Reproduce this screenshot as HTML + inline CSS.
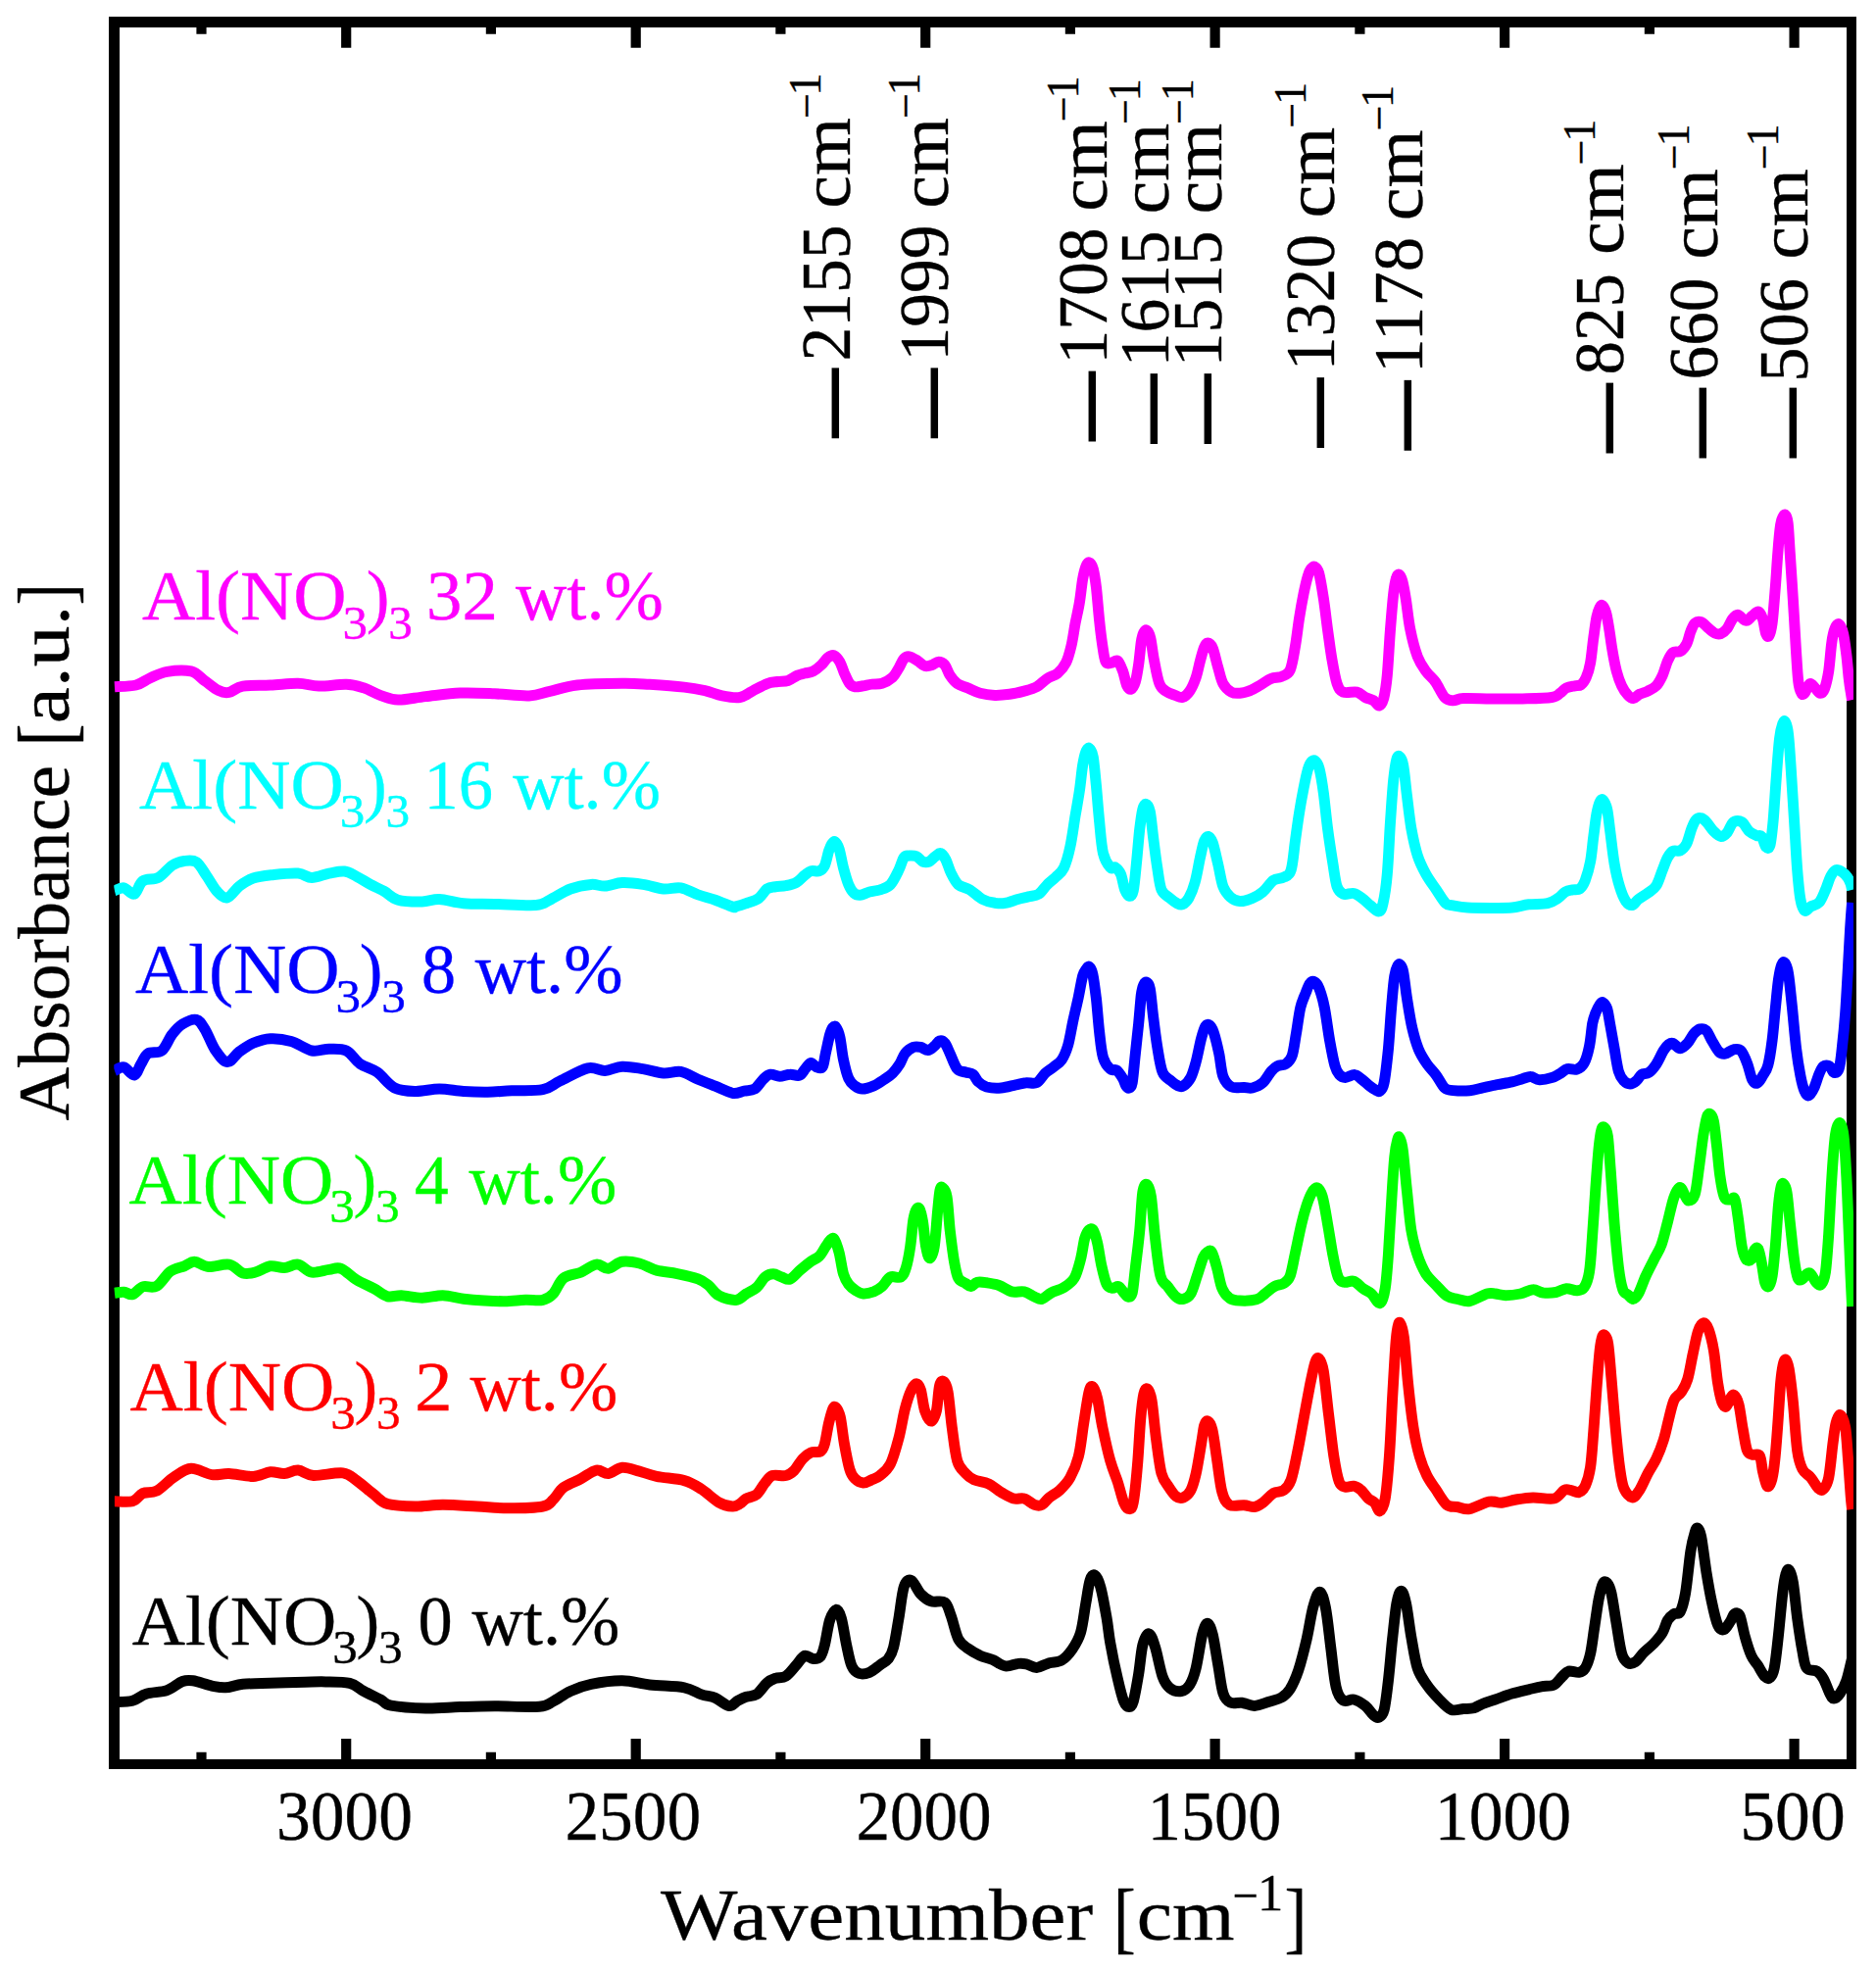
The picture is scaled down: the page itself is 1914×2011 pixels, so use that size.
<!DOCTYPE html>
<html><head><meta charset="utf-8"><title>FTIR spectra</title>
<style>html,body{margin:0;padding:0;background:#fff}svg{display:block}text{font-family:"Liberation Serif", serif;stroke-width:0.35px;stroke-linejoin:round}</style></head><body>
<svg width="1914" height="2011" viewBox="0 0 1914 2011">
<rect width="1914" height="2011" fill="#fff"/>
<path d="M111 17H1894V1805H111ZM122 28V1795H1884V28Z" fill="#000" fill-rule="evenodd"/>
<path d="M1830.6 22.2V48.8M1830.6 1799.9V1773.9M1535.1 22.2V48.8M1535.1 1799.9V1773.9M1239.6 22.2V48.8M1239.6 1799.9V1773.9M944.2 22.2V48.8M944.2 1799.9V1773.9M648.7 22.2V48.8M648.7 1799.9V1773.9M353.2 22.2V48.8M353.2 1799.9V1773.9M1682.9 22.2V34.8M1682.9 1799.9V1787.8M1387.4 22.2V34.8M1387.4 1799.9V1787.8M1091.9 22.2V34.8M1091.9 1799.9V1787.8M796.4 22.2V34.8M796.4 1799.9V1787.8M500.9 22.2V34.8M500.9 1799.9V1787.8M205.5 22.2V34.8M205.5 1799.9V1787.8" stroke="#000" stroke-width="10.2" fill="none"/>
<defs><clipPath id="ax"><rect x="116.3" y="16" width="1774.7" height="1790"/></clipPath></defs>
<g clip-path="url(#ax)" fill="none" stroke-width="11" stroke-linejoin="round" stroke-linecap="butt">
<path d="M116.9 1736.6C119.9 1736.4 129.8 1736.6 135.2 1735.2C140.6 1733.8 143.4 1729.9 149.3 1728.2C155.1 1726.4 164.2 1726.8 170.4 1724.6C176.5 1722.5 181.8 1717.1 186.2 1715.5C190.6 1713.9 191.8 1714.0 196.7 1714.8C201.7 1715.6 210.5 1718.9 216.1 1720.1C221.7 1721.2 224.9 1722.1 230.2 1721.8C235.4 1721.5 240.1 1719.1 247.8 1718.3C255.4 1717.6 265.4 1717.6 275.9 1717.3C286.5 1716.9 301.7 1716.4 311.1 1716.2C320.5 1716.0 324.6 1715.7 332.2 1715.9C339.8 1716.0 350.4 1715.7 356.8 1717.3C363.3 1718.8 365.6 1722.5 370.9 1725.4C376.2 1728.2 383.8 1731.7 388.5 1734.1C393.2 1736.6 391.4 1738.7 399.0 1740.1C406.7 1741.6 422.5 1742.7 434.2 1742.9C445.9 1743.2 457.7 1741.9 469.4 1741.5C481.1 1741.2 491.1 1740.9 504.6 1740.8C518.1 1740.8 540.4 1742.0 550.3 1741.2C560.3 1740.4 559.1 1738.5 564.4 1735.9C569.7 1733.3 575.5 1728.3 582.0 1725.4C588.4 1722.4 594.3 1720.1 603.1 1718.3C611.9 1716.6 624.8 1714.7 634.8 1714.8C644.7 1714.9 652.3 1717.8 662.9 1719.0C673.5 1720.2 689.3 1720.2 698.1 1721.8C706.9 1723.5 710.4 1727.1 715.7 1728.9C720.9 1730.6 725.1 1730.5 729.7 1732.4C734.4 1734.3 740.0 1740.0 743.8 1740.5C747.7 1740.9 749.9 1736.6 752.8 1735.1C755.7 1733.6 758.1 1732.3 761.3 1731.3C764.5 1730.2 768.4 1731.1 772.0 1728.7C775.5 1726.3 779.4 1719.7 782.6 1717.0C785.8 1714.2 788.0 1713.4 791.2 1712.3C794.4 1711.1 798.3 1712.4 801.8 1710.1C805.4 1707.9 809.3 1702.3 812.5 1698.8C815.7 1695.4 818.2 1690.3 821.0 1689.3C823.9 1688.2 826.9 1692.3 829.6 1692.5C832.2 1692.6 835.1 1692.6 837.0 1690.3C839.0 1688.0 839.7 1684.8 841.3 1678.6C842.9 1672.4 844.7 1659.0 846.6 1653.0C848.6 1647.0 851.1 1642.7 853.0 1642.3C855.0 1642.0 856.6 1644.8 858.3 1650.9C860.1 1656.9 861.9 1670.4 863.7 1678.6C865.4 1686.8 866.9 1695.1 869.0 1699.9C871.1 1704.7 873.4 1706.3 876.5 1707.4C879.5 1708.4 883.6 1707.7 887.1 1706.3C890.7 1704.9 894.6 1701.2 897.8 1698.8C901.0 1696.5 904.0 1695.5 906.3 1692.5C908.6 1689.4 909.9 1687.7 911.6 1680.7C913.4 1673.8 915.2 1661.2 917.0 1650.9C918.7 1640.6 920.2 1625.3 922.3 1618.9C924.4 1612.5 926.9 1611.3 929.8 1612.5C932.6 1613.7 936.0 1622.8 939.4 1626.4C942.7 1629.9 945.9 1632.4 950.0 1633.8C954.1 1635.2 960.5 1632.4 963.9 1634.9C967.3 1637.4 968.0 1642.5 970.3 1648.7C972.6 1655.0 974.9 1666.7 977.7 1672.2C980.6 1677.7 983.6 1678.9 987.3 1681.8C991.1 1684.6 995.9 1687.3 1000.1 1689.3C1004.4 1691.2 1008.7 1691.7 1012.9 1693.5C1017.2 1695.3 1021.4 1699.3 1025.7 1699.9C1030.0 1700.6 1035.0 1697.7 1038.5 1697.4C1042.1 1697.0 1043.8 1697.1 1047.0 1697.8C1050.2 1698.5 1053.8 1701.6 1057.7 1701.4C1061.6 1701.2 1066.2 1698.0 1070.5 1696.7C1074.8 1695.5 1079.4 1696.3 1083.3 1693.9C1087.2 1691.6 1090.7 1687.5 1093.9 1682.9C1097.1 1678.2 1100.2 1673.6 1102.5 1665.8C1104.8 1658.0 1106.2 1644.8 1107.8 1635.9C1109.4 1627.1 1110.5 1617.3 1112.1 1612.5C1113.6 1607.7 1115.2 1606.1 1117.0 1607.2C1118.7 1608.2 1120.7 1611.6 1122.7 1618.9C1124.8 1626.2 1127.4 1641.3 1129.1 1650.9C1130.8 1660.5 1130.9 1666.2 1132.8 1676.5C1134.6 1686.8 1137.9 1702.8 1140.3 1712.7C1142.6 1722.7 1144.7 1731.4 1146.7 1736.2C1148.6 1741.0 1150.4 1741.5 1152.0 1741.5C1153.6 1741.5 1154.6 1741.7 1156.2 1736.2C1157.8 1730.7 1160.0 1718.0 1161.6 1708.4C1163.2 1698.8 1164.1 1685.5 1165.8 1678.6C1167.6 1671.7 1170.1 1666.5 1172.2 1666.9C1174.4 1667.2 1176.3 1673.4 1178.6 1680.7C1180.9 1688.0 1183.6 1703.6 1186.1 1710.6C1188.6 1717.5 1190.4 1719.8 1193.6 1722.3C1196.8 1724.8 1201.9 1726.0 1205.3 1725.5C1208.7 1725.0 1211.3 1723.0 1213.8 1719.1C1216.3 1715.2 1218.1 1710.6 1220.2 1702.0C1222.3 1693.5 1224.7 1675.6 1226.6 1667.9C1228.6 1660.3 1230.2 1656.2 1231.9 1656.2C1233.7 1656.2 1235.5 1661.0 1237.3 1667.9C1239.0 1674.9 1240.8 1687.8 1242.6 1697.8C1244.4 1707.7 1245.8 1721.1 1247.9 1727.6C1250.1 1734.2 1252.2 1735.6 1255.4 1737.2C1258.6 1738.8 1263.0 1736.7 1267.1 1737.2C1271.2 1737.8 1275.3 1740.6 1279.9 1740.4C1284.5 1740.2 1290.2 1737.6 1294.8 1736.2C1299.5 1734.7 1304.1 1734.0 1307.6 1731.9C1311.2 1729.8 1313.3 1728.0 1316.2 1723.4C1319.0 1718.7 1321.8 1712.7 1324.7 1704.2C1327.5 1695.7 1330.7 1682.9 1333.2 1672.2C1335.7 1661.5 1337.4 1648.2 1339.6 1640.2C1341.8 1632.2 1344.3 1624.2 1346.4 1624.2C1348.6 1624.2 1350.5 1630.8 1352.4 1640.2C1354.3 1649.6 1356.0 1667.2 1357.7 1680.7C1359.5 1694.2 1360.9 1712.2 1363.1 1721.2C1365.2 1730.3 1367.5 1733.0 1370.5 1735.1C1373.6 1737.2 1377.5 1733.1 1381.2 1734.0C1384.9 1734.9 1389.5 1737.8 1392.9 1740.4C1396.3 1743.1 1399.1 1748.1 1401.4 1750.0C1403.8 1752.0 1405.0 1753.0 1406.8 1752.2C1408.6 1751.3 1410.5 1750.9 1412.1 1744.7C1413.7 1738.5 1415.0 1726.9 1416.4 1714.8C1417.8 1702.8 1419.2 1685.3 1420.6 1672.2C1422.1 1659.0 1423.4 1644.1 1424.9 1635.9C1426.4 1627.8 1428.0 1623.2 1429.6 1623.2C1431.2 1623.2 1432.8 1628.1 1434.5 1635.9C1436.2 1643.8 1437.9 1659.0 1439.8 1670.1C1441.8 1681.1 1443.6 1693.9 1446.2 1702.0C1448.9 1710.2 1452.3 1714.0 1455.8 1719.1C1459.4 1724.3 1463.5 1728.8 1467.5 1733.0C1471.6 1737.2 1476.1 1742.5 1480.3 1744.3C1484.6 1746.0 1489.2 1743.9 1493.1 1743.6C1497.0 1743.3 1500.5 1743.4 1503.8 1742.6C1507.1 1741.7 1509.2 1739.7 1512.8 1738.3C1516.4 1736.9 1520.6 1735.7 1525.6 1734.0C1530.6 1732.3 1537.0 1729.8 1542.6 1728.1C1548.3 1726.4 1554.7 1725.0 1559.7 1723.8C1564.7 1722.6 1568.2 1721.6 1572.5 1720.8C1576.8 1720.0 1581.7 1720.8 1585.3 1719.1C1588.8 1717.4 1591.3 1712.9 1593.8 1710.6C1596.3 1708.3 1597.4 1706.0 1600.2 1705.2C1603.1 1704.5 1608.0 1706.8 1610.9 1706.3C1613.7 1705.8 1615.3 1705.2 1617.3 1702.0C1619.2 1698.8 1621.0 1694.2 1622.6 1687.1C1624.2 1680.0 1625.4 1668.6 1626.9 1659.4C1628.3 1650.2 1629.7 1639.0 1631.1 1631.7C1632.6 1624.4 1634.0 1618.5 1635.4 1615.7C1636.8 1612.9 1638.2 1613.5 1639.7 1615.1C1641.1 1616.7 1642.3 1618.3 1643.9 1625.3C1645.5 1632.3 1647.5 1647.0 1649.3 1657.3C1651.0 1667.6 1652.6 1680.5 1654.6 1687.1C1656.5 1693.7 1658.7 1695.3 1661.0 1696.7C1663.3 1698.1 1665.8 1697.4 1668.4 1695.7C1671.1 1693.9 1673.8 1689.3 1677.0 1686.1C1680.2 1682.9 1684.4 1679.8 1687.6 1676.5C1690.8 1673.1 1693.9 1669.7 1696.2 1665.8C1698.5 1661.9 1699.5 1656.2 1701.5 1653.0C1703.4 1649.8 1705.8 1648.0 1707.9 1646.6C1710.0 1645.2 1712.3 1648.0 1714.3 1644.5C1716.2 1640.9 1717.8 1635.6 1719.6 1625.3C1721.4 1615.0 1723.3 1592.9 1724.9 1582.6C1726.5 1572.3 1728.0 1567.4 1729.2 1563.5C1730.4 1559.5 1730.9 1558.5 1732.0 1559.2C1733.0 1559.9 1734.1 1560.3 1735.6 1567.7C1737.1 1575.2 1739.2 1592.9 1740.9 1604.0C1742.7 1615.0 1744.3 1624.8 1746.3 1633.8C1748.2 1642.9 1750.5 1653.5 1752.7 1658.3C1754.8 1663.1 1756.9 1663.3 1759.1 1662.6C1761.2 1661.9 1763.7 1656.7 1765.5 1654.1C1767.2 1651.4 1768.1 1647.5 1769.7 1646.6C1771.3 1645.7 1773.3 1644.8 1775.1 1648.7C1776.8 1652.7 1778.4 1663.3 1780.4 1670.1C1782.3 1676.8 1784.6 1684.5 1786.8 1689.3C1788.9 1694.1 1790.9 1695.3 1793.2 1698.8C1795.5 1702.4 1798.5 1708.4 1800.6 1710.6C1802.8 1712.7 1804.4 1713.1 1806.0 1711.6C1807.6 1710.2 1808.8 1709.3 1810.2 1702.0C1811.7 1694.8 1813.1 1680.7 1814.5 1667.9C1815.9 1655.1 1817.5 1635.6 1818.8 1625.3C1820.0 1615.0 1820.9 1610.0 1822.0 1606.1C1823.0 1602.2 1823.9 1600.4 1825.2 1601.8C1826.4 1603.3 1828.0 1606.5 1829.4 1614.6C1830.8 1622.8 1832.1 1639.1 1833.7 1650.9C1835.3 1662.6 1837.4 1676.5 1839.0 1685.0C1840.6 1693.5 1840.8 1698.7 1843.3 1702.0C1845.8 1705.4 1851.1 1703.5 1853.9 1705.2C1856.8 1707.0 1858.2 1709.0 1860.3 1712.7C1862.5 1716.4 1865.0 1724.3 1866.7 1727.6C1868.5 1731.0 1869.2 1733.0 1871.0 1733.0C1872.8 1733.0 1875.3 1730.7 1877.4 1727.6C1879.5 1724.6 1881.7 1721.2 1883.8 1714.8C1885.9 1708.4 1889.1 1693.5 1890.2 1689.3" stroke="#000000"/>
<path d="M116.9 1531.7C119.9 1531.7 130.4 1533.1 135.2 1531.7C140.0 1530.4 141.6 1525.4 145.7 1523.6C149.8 1521.9 154.5 1523.9 159.8 1521.2C165.1 1518.4 171.5 1510.9 177.4 1507.1C183.3 1503.3 188.5 1498.7 195.0 1498.3C201.4 1497.9 209.6 1503.8 216.1 1504.6C222.5 1505.5 226.7 1503.3 233.7 1503.6C240.7 1503.9 251.3 1506.7 258.3 1506.4C265.4 1506.1 270.6 1502.3 275.9 1501.8C281.2 1501.4 285.3 1503.9 290.0 1503.6C294.7 1503.3 299.1 1499.8 304.1 1500.1C309.0 1500.4 312.3 1504.9 319.9 1505.4C327.5 1505.8 342.5 1502.0 349.8 1502.9C357.1 1503.8 358.6 1507.0 363.9 1510.6C369.1 1514.3 376.2 1520.7 381.4 1524.7C386.7 1528.7 388.5 1532.5 395.5 1534.6C402.6 1536.6 414.3 1536.9 423.7 1537.0C433.0 1537.1 441.3 1535.3 451.8 1535.3C462.4 1535.3 475.9 1536.4 487.0 1537.0C498.1 1537.6 507.5 1538.8 518.7 1538.8C529.8 1538.8 546.2 1538.5 553.8 1537.0C561.5 1535.5 560.9 1533.2 564.4 1530.0C567.9 1526.8 570.3 1521.2 574.9 1517.7C579.6 1514.1 587.0 1511.8 592.5 1508.9C598.1 1505.9 603.7 1501.0 608.4 1500.1C613.1 1499.2 616.3 1504.1 620.7 1503.6C625.1 1503.1 629.5 1497.7 634.8 1497.3C640.0 1496.8 646.5 1499.6 652.3 1501.1C658.2 1502.7 662.3 1504.8 669.9 1506.4C677.6 1508.0 690.5 1508.5 698.1 1510.6C705.7 1512.8 709.8 1515.7 715.7 1519.4C721.5 1523.1 728.0 1529.9 733.3 1532.8C738.5 1535.7 743.7 1536.8 747.3 1537.0C750.9 1537.3 752.6 1535.6 754.9 1534.3C757.3 1532.9 758.5 1530.6 761.3 1529.0C764.2 1527.4 768.8 1527.4 772.0 1524.7C775.2 1522.0 777.8 1516.2 780.5 1513.0C783.2 1509.8 784.4 1506.7 788.0 1505.5C791.5 1504.3 798.1 1506.4 801.8 1505.5C805.6 1504.6 807.5 1503.0 810.4 1500.2C813.2 1497.3 816.0 1491.5 818.9 1488.4C821.7 1485.4 824.4 1483.3 827.4 1482.0C830.4 1480.8 834.7 1482.4 837.0 1481.0C839.3 1479.6 839.9 1478.3 841.3 1473.5C842.7 1468.7 844.1 1458.2 845.5 1452.2C847.0 1446.2 848.6 1439.9 849.8 1437.3C851.1 1434.6 851.8 1434.8 853.0 1436.2C854.3 1437.6 855.8 1439.6 857.3 1445.8C858.7 1452.0 859.9 1464.6 861.5 1473.5C863.1 1482.4 865.1 1493.2 866.9 1499.1C868.6 1505.0 869.9 1506.4 872.2 1508.7C874.5 1511.0 877.9 1512.8 880.7 1513.0C883.6 1513.1 886.4 1511.0 889.3 1509.8C892.1 1508.5 894.6 1508.2 897.8 1505.5C901.0 1502.8 905.2 1500.2 908.4 1493.8C911.6 1487.4 914.5 1476.5 917.0 1467.1C919.5 1457.7 921.2 1445.4 923.4 1437.3C925.5 1429.1 927.8 1422.3 929.8 1418.1C931.7 1413.8 933.5 1411.7 935.1 1411.7C936.7 1411.7 937.9 1413.5 939.4 1418.1C940.8 1422.7 941.8 1434.1 943.6 1439.4C945.4 1444.7 948.1 1450.1 950.0 1450.1C952.0 1450.1 953.9 1445.4 955.4 1439.4C956.8 1433.4 957.3 1418.8 958.6 1413.8C959.8 1408.8 961.4 1408.5 962.8 1409.6C964.2 1410.6 965.7 1412.4 967.1 1420.2C968.5 1428.0 969.7 1444.7 971.3 1456.5C972.9 1468.2 974.4 1482.8 976.7 1490.6C979.0 1498.4 982.4 1500.2 985.2 1503.4C988.0 1506.6 989.8 1508.0 993.7 1509.8C997.6 1511.5 1004.0 1511.9 1008.7 1514.0C1013.3 1516.2 1017.2 1520.1 1021.4 1522.6C1025.7 1525.0 1030.3 1527.9 1034.2 1529.0C1038.2 1530.0 1041.4 1527.9 1044.9 1529.0C1048.5 1530.0 1052.5 1534.3 1055.6 1535.4C1058.6 1536.4 1060.5 1536.6 1063.0 1535.4C1065.5 1534.1 1067.5 1530.4 1070.5 1527.9C1073.5 1525.4 1077.6 1523.8 1081.2 1520.4C1084.7 1517.1 1088.6 1513.3 1091.8 1507.6C1095.0 1501.9 1098.0 1495.6 1100.3 1486.3C1102.7 1477.1 1103.9 1463.2 1105.7 1452.2C1107.4 1441.2 1109.5 1426.4 1111.0 1420.2C1112.5 1414.0 1113.4 1413.8 1114.8 1414.9C1116.3 1415.9 1117.9 1419.7 1119.5 1426.6C1121.2 1433.5 1122.7 1445.8 1124.9 1456.5C1127.1 1467.1 1130.2 1481.3 1132.8 1490.6C1135.4 1499.8 1137.9 1504.8 1140.3 1511.9C1142.6 1519.0 1144.7 1528.6 1146.7 1533.2C1148.6 1537.8 1150.4 1539.6 1152.0 1539.6C1153.6 1539.6 1154.8 1540.7 1156.2 1533.2C1157.7 1525.8 1159.3 1509.1 1160.5 1494.8C1161.8 1480.6 1162.6 1460.0 1163.7 1447.9C1164.8 1435.8 1165.7 1427.5 1166.9 1422.3C1168.1 1417.2 1169.4 1415.9 1170.7 1417.0C1172.1 1418.1 1173.5 1420.0 1175.0 1428.7C1176.5 1437.4 1178.0 1456.8 1179.7 1469.3C1181.4 1481.7 1182.9 1495.4 1185.0 1503.4C1187.2 1511.4 1190.0 1513.3 1192.5 1517.2C1195.0 1521.1 1197.5 1525.0 1200.0 1526.8C1202.4 1528.6 1204.9 1529.0 1207.4 1527.9C1209.9 1526.8 1212.8 1524.5 1214.9 1520.4C1217.0 1516.3 1218.4 1511.2 1220.2 1503.4C1222.0 1495.6 1224.1 1481.7 1225.5 1473.5C1227.0 1465.3 1227.6 1458.2 1228.7 1454.3C1229.9 1450.4 1231.0 1449.4 1232.4 1450.1C1233.7 1450.8 1235.3 1452.2 1236.8 1458.6C1238.4 1465.0 1239.9 1477.8 1241.5 1488.4C1243.2 1499.1 1244.7 1514.7 1246.9 1522.6C1249.0 1530.4 1250.6 1533.1 1254.3 1535.4C1258.1 1537.6 1265.0 1535.4 1269.3 1535.8C1273.5 1536.1 1276.7 1537.9 1279.9 1537.5C1283.1 1537.1 1285.2 1535.5 1288.4 1533.2C1291.6 1530.9 1295.6 1525.8 1299.1 1523.6C1302.7 1521.5 1306.7 1522.7 1309.8 1520.4C1312.8 1518.1 1314.9 1516.2 1317.2 1509.8C1319.5 1503.4 1321.5 1492.4 1323.6 1482.0C1325.8 1471.7 1327.9 1459.3 1330.0 1447.9C1332.2 1436.6 1334.5 1423.4 1336.4 1413.8C1338.4 1404.2 1340.2 1395.0 1341.7 1390.4C1343.3 1385.7 1344.2 1384.7 1345.6 1386.1C1347.0 1387.5 1348.6 1389.3 1350.3 1398.9C1351.9 1408.5 1353.8 1429.1 1355.6 1443.7C1357.4 1458.2 1359.2 1474.9 1360.9 1486.3C1362.7 1497.7 1364.3 1506.7 1366.3 1511.9C1368.2 1517.1 1370.2 1516.5 1372.7 1517.2C1375.2 1517.9 1378.5 1515.6 1381.2 1516.2C1383.9 1516.7 1386.2 1518.3 1388.7 1520.4C1391.1 1522.6 1393.8 1526.8 1396.1 1529.0C1398.4 1531.1 1400.6 1531.1 1402.5 1533.2C1404.5 1535.4 1406.1 1542.5 1407.8 1541.7C1409.6 1541.0 1411.6 1538.2 1413.2 1529.0C1414.8 1519.7 1416.2 1503.4 1417.4 1486.3C1418.7 1469.3 1419.6 1445.4 1420.6 1426.6C1421.7 1407.8 1422.9 1385.4 1423.8 1373.3C1424.7 1361.2 1425.2 1358.0 1426.0 1354.1C1426.8 1350.2 1427.5 1348.1 1428.5 1349.9C1429.6 1351.6 1431.0 1354.5 1432.4 1364.8C1433.7 1375.1 1435.0 1396.4 1436.6 1411.7C1438.2 1427.0 1440.0 1444.0 1442.0 1456.5C1443.9 1468.9 1446.0 1478.1 1448.4 1486.3C1450.7 1494.5 1453.0 1499.8 1455.8 1505.5C1458.7 1511.2 1462.0 1515.5 1465.4 1520.4C1468.8 1525.4 1472.5 1532.5 1476.1 1535.4C1479.6 1538.2 1482.8 1536.8 1486.7 1537.5C1490.6 1538.2 1494.1 1540.5 1499.5 1539.6C1504.9 1538.7 1513.8 1533.2 1519.2 1532.2C1524.6 1531.1 1527.4 1533.6 1532.0 1533.2C1536.6 1532.9 1541.6 1530.9 1546.9 1530.0C1552.2 1529.1 1557.6 1528.1 1564.0 1527.9C1570.4 1527.7 1580.0 1530.2 1585.3 1529.0C1590.6 1527.7 1593.1 1521.8 1595.9 1520.4C1598.8 1519.0 1599.9 1520.1 1602.3 1520.4C1604.8 1520.8 1608.4 1523.3 1610.9 1522.6C1613.4 1521.8 1615.3 1520.4 1617.3 1516.2C1619.2 1511.9 1621.2 1506.2 1622.6 1497.0C1624.0 1487.7 1624.7 1474.2 1625.8 1460.7C1626.9 1447.2 1627.9 1429.8 1629.0 1415.9C1630.1 1402.1 1631.2 1386.3 1632.2 1377.6C1633.2 1368.9 1633.9 1366.2 1634.8 1363.7C1635.6 1361.2 1636.5 1361.4 1637.5 1362.6C1638.5 1363.9 1639.7 1364.1 1640.7 1371.2C1641.8 1378.3 1642.7 1391.1 1643.9 1405.3C1645.2 1419.5 1646.8 1441.2 1648.2 1456.5C1649.6 1471.7 1651.0 1486.7 1652.5 1497.0C1653.9 1507.3 1654.6 1513.1 1656.7 1518.3C1658.8 1523.4 1662.6 1527.5 1665.2 1527.9C1667.9 1528.2 1670.0 1524.5 1672.7 1520.4C1675.4 1516.3 1678.4 1508.7 1681.2 1503.4C1684.1 1498.0 1687.1 1494.1 1689.8 1488.4C1692.4 1482.8 1695.1 1476.0 1697.2 1469.3C1699.4 1462.5 1700.8 1454.7 1702.6 1447.9C1704.3 1441.2 1705.8 1433.4 1707.9 1428.7C1710.0 1424.1 1713.0 1423.8 1715.4 1420.2C1717.7 1416.7 1719.8 1413.8 1721.7 1407.4C1723.7 1401.0 1725.3 1390.0 1727.1 1381.8C1728.9 1373.7 1730.6 1363.7 1732.4 1358.4C1734.2 1353.0 1736.0 1350.2 1737.7 1349.9C1739.5 1349.5 1741.3 1351.6 1743.1 1356.2C1744.8 1360.9 1746.8 1368.3 1748.4 1377.6C1750.0 1386.8 1751.2 1402.8 1752.7 1411.7C1754.1 1420.6 1755.5 1427.0 1756.9 1430.9C1758.4 1434.8 1759.8 1435.8 1761.2 1435.1C1762.6 1434.4 1764.1 1428.6 1765.5 1426.6C1766.8 1424.7 1767.7 1422.3 1769.1 1423.4C1770.5 1424.5 1772.5 1427.1 1774.0 1433.0C1775.5 1438.9 1776.8 1450.8 1778.3 1458.6C1779.7 1466.4 1780.9 1475.7 1782.5 1479.9C1784.1 1484.2 1785.7 1483.3 1787.8 1484.2C1790.0 1485.1 1793.5 1482.4 1795.3 1485.2C1797.1 1488.1 1797.3 1496.1 1798.5 1501.2C1799.8 1506.4 1801.4 1514.4 1802.8 1516.2C1804.2 1517.9 1805.8 1515.5 1807.0 1511.9C1808.3 1508.3 1809.2 1503.7 1810.2 1494.8C1811.3 1486.0 1812.4 1472.5 1813.4 1458.6C1814.5 1444.7 1815.7 1422.7 1816.6 1411.7C1817.6 1400.7 1818.3 1396.6 1819.2 1392.5C1820.1 1388.4 1821.0 1386.5 1822.0 1387.2C1823.0 1387.9 1823.9 1389.5 1825.2 1396.8C1826.4 1404.0 1828.0 1417.0 1829.4 1430.9C1830.8 1444.7 1832.1 1468.5 1833.7 1479.9C1835.3 1491.3 1836.7 1494.5 1839.0 1499.1C1841.3 1503.7 1844.9 1504.4 1847.5 1507.6C1850.2 1510.8 1852.9 1516.3 1855.0 1518.3C1857.1 1520.2 1858.6 1521.1 1860.3 1519.4C1862.1 1517.6 1864.1 1515.3 1865.7 1507.6C1867.3 1500.0 1868.7 1482.8 1869.9 1473.5C1871.2 1464.3 1871.8 1457.2 1873.1 1452.2C1874.4 1447.2 1876.2 1443.0 1877.8 1443.7C1879.4 1444.4 1881.4 1449.0 1882.7 1456.5C1884.0 1463.9 1884.6 1477.1 1885.5 1488.4C1886.4 1499.8 1887.4 1516.1 1888.1 1524.7C1888.7 1533.3 1889.3 1537.5 1889.6 1540.0" stroke="#ff0000"/>
<path d="M116.9 1319.3C118.5 1319.1 123.3 1318.0 126.4 1318.2C129.4 1318.5 132.0 1321.6 135.2 1320.7C138.4 1319.8 141.6 1314.3 145.7 1312.9C149.8 1311.5 155.1 1314.9 159.8 1312.2C164.5 1309.6 169.2 1300.5 173.9 1297.1C178.6 1293.7 183.8 1293.5 188.0 1291.8C192.1 1290.2 194.4 1287.1 198.5 1287.3C202.6 1287.4 206.7 1292.1 212.6 1292.5C218.4 1293.0 227.8 1289.0 233.7 1290.1C239.6 1291.1 243.4 1297.5 247.8 1298.9C252.2 1300.2 255.4 1299.3 260.1 1298.2C264.8 1297.0 270.9 1292.6 275.9 1291.8C280.9 1291.1 285.3 1293.9 290.0 1293.6C294.7 1293.3 299.4 1289.3 304.1 1290.1C308.7 1290.8 312.8 1297.3 318.1 1298.2C323.4 1299.0 330.7 1296.0 335.7 1295.4C340.7 1294.7 343.3 1292.5 348.0 1294.3C352.7 1296.1 358.3 1302.5 363.9 1305.9C369.4 1309.3 376.2 1311.9 381.4 1314.7C386.7 1317.5 390.8 1321.6 395.5 1322.8C400.2 1324.0 403.7 1321.5 409.6 1321.7C415.5 1322.0 423.7 1324.2 430.7 1324.2C437.7 1324.2 444.8 1321.6 451.8 1321.7C458.8 1321.9 465.9 1324.4 472.9 1325.3C480.0 1326.1 487.0 1326.6 494.0 1327.0C501.1 1327.4 508.1 1327.8 515.1 1327.7C522.2 1327.6 529.8 1326.5 536.2 1326.3C542.7 1326.1 549.1 1327.4 553.8 1326.3C558.5 1325.3 560.9 1323.7 564.4 1320.0C567.9 1316.3 570.3 1307.8 574.9 1304.1C579.6 1300.5 587.0 1300.5 592.5 1298.2C598.1 1295.8 603.7 1290.7 608.4 1290.1C613.1 1289.4 616.3 1294.8 620.7 1294.3C625.1 1293.8 629.5 1288.1 634.8 1287.3C640.0 1286.4 646.5 1287.6 652.3 1289.0C658.2 1290.5 663.5 1294.3 669.9 1296.1C676.4 1297.8 684.0 1298.1 691.0 1299.6C698.1 1301.0 706.9 1302.9 712.2 1304.9C717.4 1306.8 719.2 1308.4 722.7 1311.2C726.2 1314.0 728.6 1319.2 733.3 1321.7C737.9 1324.3 746.0 1326.7 750.7 1326.4C755.3 1326.1 757.8 1322.2 761.3 1320.0C764.9 1317.9 768.8 1316.5 772.0 1313.6C775.2 1310.8 777.7 1305.3 780.5 1303.0C783.4 1300.7 786.2 1299.8 789.0 1299.8C791.9 1299.8 794.7 1302.1 797.6 1303.0C800.4 1303.9 802.9 1306.3 806.1 1305.1C809.3 1303.9 813.2 1298.5 816.8 1295.5C820.3 1292.5 824.2 1289.3 827.4 1287.0C830.6 1284.7 833.5 1284.1 835.9 1281.6C838.4 1279.2 840.4 1274.9 842.3 1272.0C844.3 1269.2 846.2 1265.8 847.7 1264.6C849.2 1263.3 849.9 1262.3 851.3 1264.6C852.7 1266.9 854.7 1272.6 856.2 1278.4C857.7 1284.3 858.9 1294.4 860.5 1299.8C862.1 1305.1 863.7 1307.6 865.8 1310.4C867.9 1313.3 870.8 1315.2 873.3 1316.8C875.7 1318.4 877.7 1319.8 880.7 1320.0C883.7 1320.2 888.2 1319.1 891.4 1317.9C894.6 1316.6 897.1 1315.0 899.9 1312.6C902.8 1310.1 905.2 1304.6 908.4 1303.0C911.6 1301.4 916.4 1304.6 919.1 1303.0C921.8 1301.4 922.8 1298.5 924.4 1293.4C926.0 1288.2 927.5 1280.2 928.7 1272.0C929.9 1263.9 930.8 1250.7 931.9 1244.3C933.0 1237.9 934.0 1235.4 935.1 1233.7C936.2 1231.9 937.2 1231.5 938.3 1233.7C939.4 1235.8 940.4 1240.1 941.5 1246.5C942.6 1252.9 943.5 1265.8 944.7 1272.0C945.9 1278.3 947.1 1283.8 948.5 1283.8C950.0 1283.8 951.9 1279.7 953.2 1272.0C954.5 1264.4 955.5 1247.5 956.4 1237.9C957.4 1228.3 958.1 1218.8 959.0 1214.5C959.9 1210.1 960.6 1210.9 961.7 1211.9C962.9 1213.0 964.8 1213.7 966.0 1220.9C967.3 1228.1 968.0 1244.0 969.2 1255.0C970.5 1266.0 972.1 1278.8 973.5 1287.0C974.9 1295.1 975.8 1300.3 977.7 1304.0C979.7 1307.8 983.1 1307.9 985.2 1309.4C987.3 1310.8 988.6 1312.7 990.5 1312.6C992.5 1312.4 994.3 1308.9 996.9 1308.3C999.6 1307.7 1002.8 1308.2 1006.5 1308.7C1010.3 1309.3 1015.1 1310.0 1019.3 1311.5C1023.6 1313.0 1027.8 1316.8 1032.1 1317.9C1036.4 1319.0 1041.0 1317.0 1044.9 1317.9C1048.8 1318.8 1052.5 1322.0 1055.6 1323.2C1058.6 1324.5 1060.2 1326.1 1063.0 1325.4C1065.9 1324.6 1068.9 1320.9 1072.6 1319.0C1076.4 1317.0 1081.5 1316.1 1085.4 1313.6C1089.3 1311.1 1093.2 1308.8 1096.1 1304.0C1098.9 1299.2 1100.7 1291.6 1102.5 1284.8C1104.3 1278.1 1105.3 1268.5 1106.7 1263.5C1108.2 1258.5 1109.6 1256.4 1111.0 1255.0C1112.4 1253.6 1113.8 1252.9 1115.3 1255.0C1116.7 1257.1 1118.1 1261.7 1119.5 1267.8C1121.0 1273.8 1122.2 1284.1 1123.8 1291.2C1125.4 1298.3 1127.3 1306.6 1129.1 1310.4C1131.0 1314.3 1132.9 1313.9 1134.9 1314.3C1137.0 1314.6 1139.4 1311.8 1141.3 1312.6C1143.3 1313.3 1145.1 1317.2 1146.7 1319.0C1148.3 1320.7 1149.5 1323.2 1150.9 1323.2C1152.3 1323.2 1153.9 1323.9 1155.2 1319.0C1156.4 1314.0 1157.1 1303.7 1158.4 1293.4C1159.6 1283.1 1161.4 1269.9 1162.6 1257.1C1163.9 1244.3 1164.6 1224.7 1165.8 1216.6C1167.1 1208.5 1168.7 1207.8 1170.1 1208.5C1171.5 1209.2 1172.9 1211.7 1174.4 1220.9C1175.8 1230.0 1177.0 1250.0 1178.6 1263.5C1180.2 1277.0 1181.8 1293.7 1184.0 1301.9C1186.1 1310.1 1188.8 1309.0 1191.4 1312.6C1194.1 1316.1 1197.3 1321.1 1200.0 1323.2C1202.6 1325.4 1204.9 1325.9 1207.4 1325.4C1209.9 1324.8 1212.6 1323.9 1214.9 1320.0C1217.2 1316.1 1219.1 1308.1 1221.3 1301.9C1223.4 1295.7 1225.9 1286.8 1227.7 1282.7C1229.5 1278.6 1230.5 1278.3 1231.9 1277.4C1233.4 1276.5 1234.6 1274.7 1236.2 1277.4C1237.8 1280.0 1239.8 1287.1 1241.5 1293.4C1243.3 1299.6 1244.7 1309.5 1246.9 1314.7C1249.0 1319.8 1251.3 1322.2 1254.3 1324.3C1257.3 1326.3 1260.4 1326.8 1265.0 1327.1C1269.6 1327.3 1277.8 1327.0 1282.0 1325.8C1286.3 1324.6 1287.6 1322.2 1290.6 1320.0C1293.6 1317.8 1297.0 1314.3 1300.2 1312.6C1303.4 1310.8 1307.1 1311.1 1309.8 1309.4C1312.4 1307.6 1314.2 1307.1 1316.2 1301.9C1318.1 1296.7 1319.5 1287.3 1321.5 1278.4C1323.4 1269.6 1325.9 1256.8 1327.9 1248.6C1329.8 1240.4 1331.4 1234.7 1333.2 1229.4C1335.0 1224.1 1336.8 1219.5 1338.6 1216.6C1340.3 1213.7 1342.1 1211.2 1343.9 1211.9C1345.7 1212.6 1347.4 1214.8 1349.2 1220.9C1351.0 1227.0 1352.8 1238.6 1354.5 1248.6C1356.3 1258.5 1358.1 1271.5 1359.9 1280.6C1361.6 1289.6 1363.2 1298.3 1365.2 1303.0C1367.2 1307.6 1368.9 1307.6 1371.6 1308.3C1374.3 1309.0 1378.0 1306.2 1381.2 1307.2C1384.4 1308.3 1387.8 1312.6 1390.8 1314.7C1393.8 1316.8 1396.5 1317.5 1399.3 1320.0C1402.2 1322.5 1405.5 1330.5 1407.8 1329.6C1410.2 1328.7 1411.8 1322.9 1413.2 1314.7C1414.6 1306.5 1415.3 1295.1 1416.4 1280.6C1417.4 1266.0 1418.5 1244.0 1419.6 1227.3C1420.6 1210.6 1421.7 1191.2 1422.8 1180.4C1423.8 1169.5 1425.1 1165.4 1426.0 1162.2C1426.9 1159.0 1427.2 1159.2 1428.1 1161.2C1429.0 1163.1 1430.1 1164.7 1431.3 1174.0C1432.5 1183.2 1434.1 1203.1 1435.6 1216.6C1437.0 1230.1 1438.1 1244.3 1439.8 1255.0C1441.6 1265.7 1443.7 1273.1 1446.2 1280.6C1448.7 1288.0 1451.6 1294.6 1454.8 1299.8C1458.0 1304.9 1461.9 1307.8 1465.4 1311.5C1469.0 1315.2 1472.5 1319.8 1476.1 1322.2C1479.6 1324.5 1482.8 1324.5 1486.7 1325.4C1490.6 1326.2 1494.5 1328.4 1499.5 1327.5C1504.6 1326.6 1512.7 1321.3 1517.1 1320.0C1521.4 1318.8 1522.4 1319.7 1525.6 1320.0C1528.8 1320.3 1532.0 1321.7 1536.2 1321.7C1540.5 1321.7 1546.6 1321.0 1551.2 1320.0C1555.8 1319.0 1560.1 1315.9 1564.0 1315.8C1567.9 1315.6 1570.7 1318.5 1574.6 1319.0C1578.5 1319.4 1583.5 1319.2 1587.4 1318.5C1591.3 1317.8 1594.5 1315.0 1598.1 1314.7C1601.6 1314.4 1605.7 1317.0 1608.7 1316.8C1611.8 1316.6 1614.1 1316.8 1616.2 1313.6C1618.3 1310.4 1620.1 1306.7 1621.5 1297.6C1623.0 1288.6 1623.7 1273.5 1624.7 1259.3C1625.8 1245.0 1626.9 1226.9 1627.9 1212.3C1629.0 1197.8 1630.1 1181.8 1631.1 1171.8C1632.1 1161.9 1632.9 1156.2 1633.9 1152.6C1634.9 1149.1 1635.8 1149.4 1636.9 1150.5C1638.0 1151.6 1639.2 1151.6 1640.3 1159.0C1641.4 1166.5 1642.1 1180.4 1643.3 1195.3C1644.4 1210.2 1645.8 1232.2 1647.1 1248.6C1648.5 1264.9 1650.0 1282.2 1651.4 1293.4C1652.8 1304.6 1654.1 1311.1 1655.7 1315.8C1657.2 1320.4 1659.2 1319.5 1661.0 1321.1C1662.8 1322.7 1664.5 1325.5 1666.3 1325.4C1668.1 1325.2 1669.5 1323.9 1671.6 1320.0C1673.8 1316.1 1676.4 1307.8 1679.1 1301.9C1681.8 1296.0 1685.0 1290.2 1687.6 1284.8C1690.3 1279.5 1692.8 1276.3 1695.1 1269.9C1697.4 1263.5 1699.5 1253.9 1701.5 1246.5C1703.4 1239.0 1705.2 1230.5 1706.8 1225.1C1708.4 1219.8 1709.7 1216.7 1711.1 1214.5C1712.4 1212.3 1713.7 1211.2 1714.9 1211.9C1716.2 1212.6 1717.2 1216.5 1718.6 1218.7C1719.9 1220.9 1721.0 1225.1 1722.8 1225.1C1724.6 1225.1 1727.4 1224.4 1729.2 1218.7C1731.0 1213.1 1732.1 1201.0 1733.5 1191.0C1734.9 1181.1 1736.4 1167.6 1737.7 1159.0C1739.1 1150.5 1740.2 1143.6 1741.4 1139.9C1742.5 1136.1 1743.6 1135.9 1744.8 1136.7C1745.9 1137.4 1747.3 1138.6 1748.4 1144.1C1749.5 1149.6 1750.5 1160.5 1751.6 1169.7C1752.7 1178.9 1753.6 1191.0 1754.8 1199.6C1756.0 1208.1 1757.5 1216.8 1759.1 1220.9C1760.7 1225.0 1762.6 1223.7 1764.4 1224.1C1766.2 1224.4 1768.3 1220.3 1769.7 1223.0C1771.1 1225.7 1771.7 1231.9 1772.9 1240.1C1774.2 1248.2 1775.8 1264.6 1777.2 1272.0C1778.6 1279.5 1779.9 1282.7 1781.4 1284.8C1783.0 1287.0 1785.4 1286.4 1786.8 1284.8C1788.2 1283.2 1788.8 1277.0 1790.0 1275.2C1791.2 1273.5 1792.6 1271.9 1793.8 1274.2C1795.1 1276.5 1796.3 1283.4 1797.4 1289.1C1798.6 1294.8 1799.5 1304.4 1800.6 1308.3C1801.8 1312.2 1803.2 1313.6 1804.5 1312.6C1805.7 1311.5 1807.0 1308.6 1808.1 1301.9C1809.2 1295.1 1810.2 1284.1 1811.3 1272.0C1812.4 1260.0 1813.5 1239.7 1814.5 1229.4C1815.5 1219.1 1816.4 1213.8 1817.3 1210.2C1818.2 1206.7 1818.9 1207.0 1819.8 1208.1C1820.8 1209.1 1822.0 1210.2 1823.0 1216.6C1824.1 1223.0 1825.0 1235.1 1826.2 1246.5C1827.5 1257.8 1829.1 1275.2 1830.5 1284.8C1831.8 1294.4 1832.9 1300.7 1834.3 1304.0C1835.7 1307.4 1837.5 1305.8 1839.0 1305.1C1840.5 1304.4 1841.9 1300.7 1843.3 1299.8C1844.7 1298.9 1845.9 1298.3 1847.5 1299.8C1849.1 1301.2 1851.1 1306.5 1852.9 1308.3C1854.7 1310.1 1856.6 1312.2 1858.2 1310.4C1859.8 1308.6 1861.2 1306.2 1862.5 1297.6C1863.7 1289.1 1864.6 1275.2 1865.7 1259.3C1866.7 1243.3 1867.8 1218.0 1868.9 1201.7C1869.9 1185.3 1871.1 1170.1 1872.1 1161.2C1873.1 1152.3 1873.9 1150.9 1874.8 1148.4C1875.8 1145.9 1876.8 1144.5 1877.8 1146.2C1878.9 1148.0 1880.0 1150.2 1881.0 1159.0C1882.0 1167.9 1883.0 1184.6 1883.8 1199.6C1884.6 1214.5 1885.2 1231.5 1885.9 1248.6C1886.6 1265.7 1887.5 1287.8 1888.1 1301.9C1888.7 1316.0 1889.3 1327.8 1889.6 1333.0" stroke="#00ff00"/>
<path d="M116.9 1092.4C118.5 1091.8 123.0 1088.1 126.4 1088.9C129.7 1089.6 134.0 1097.5 136.9 1097.0C139.9 1096.4 141.6 1089.0 144.0 1085.4C146.3 1081.7 147.5 1077.0 151.0 1074.8C154.5 1072.6 161.0 1075.2 165.1 1072.0C169.2 1068.8 172.1 1060.0 175.6 1055.4C179.2 1050.9 182.1 1047.4 186.2 1044.9C190.3 1042.4 196.5 1039.4 200.3 1040.3C204.1 1041.2 205.8 1045.0 209.1 1050.2C212.3 1055.3 215.8 1065.7 219.6 1071.3C223.4 1076.8 227.8 1083.3 231.9 1083.6C236.0 1083.9 239.8 1076.3 244.2 1073.0C248.6 1069.8 253.0 1066.5 258.3 1064.2C263.6 1062.0 269.5 1060.0 275.9 1059.7C282.4 1059.4 290.0 1060.4 297.0 1062.5C304.1 1064.5 311.7 1070.7 318.1 1072.0C324.6 1073.3 329.9 1070.2 335.7 1070.2C341.6 1070.2 348.0 1069.5 353.3 1072.0C358.6 1074.5 362.1 1081.7 367.4 1085.4C372.7 1089.0 379.1 1090.0 385.0 1094.1C390.8 1098.3 396.1 1106.8 402.6 1110.0C409.0 1113.2 416.0 1113.3 423.7 1113.5C431.3 1113.7 440.1 1111.0 448.3 1111.0C456.5 1111.0 464.7 1113.0 472.9 1113.5C481.1 1114.0 489.3 1114.3 497.5 1114.2C505.8 1114.1 512.8 1113.2 522.2 1112.8C531.6 1112.4 545.6 1113.4 553.8 1111.7C562.0 1110.1 563.8 1106.6 571.4 1102.9C579.1 1099.3 592.0 1091.7 599.6 1089.9C607.2 1088.2 611.3 1092.7 617.2 1092.4C623.0 1092.1 628.3 1088.5 634.8 1088.2C641.2 1087.9 648.8 1089.5 655.9 1090.6C662.9 1091.7 670.5 1094.4 677.0 1094.9C683.4 1095.3 688.7 1092.4 694.6 1093.4C700.4 1094.5 706.3 1098.7 712.2 1101.2C718.0 1103.6 723.9 1105.9 729.7 1108.2C735.6 1110.6 742.4 1114.4 747.3 1115.3C752.2 1116.1 755.4 1113.9 759.2 1113.2C762.9 1112.5 766.7 1113.0 769.9 1111.1C773.0 1109.1 775.7 1104.0 778.4 1101.5C781.0 1099.0 783.0 1096.7 785.8 1096.2C788.7 1095.6 792.1 1098.3 795.4 1098.3C798.8 1098.3 802.7 1096.3 806.1 1096.2C809.5 1096.0 813.0 1098.3 815.7 1097.2C818.4 1096.2 820.1 1091.9 822.1 1089.8C824.0 1087.6 825.6 1084.6 827.4 1084.4C829.2 1084.3 830.8 1088.0 832.8 1088.7C834.7 1089.4 837.5 1091.0 839.1 1088.7C840.7 1086.4 841.1 1080.3 842.3 1074.8C843.6 1069.3 845.4 1060.1 846.6 1055.7C847.9 1051.2 848.7 1049.4 849.8 1048.2C850.9 1046.9 851.8 1046.6 853.0 1048.2C854.2 1049.8 855.6 1052.3 856.8 1057.8C858.1 1063.3 859.0 1074.1 860.5 1081.2C862.0 1088.3 863.8 1096.0 865.8 1100.4C867.8 1104.9 869.9 1106.1 872.2 1107.9C874.5 1109.7 876.5 1111.1 879.7 1111.1C882.9 1111.1 887.7 1109.5 891.4 1107.9C895.1 1106.3 898.8 1103.6 902.0 1101.5C905.2 1099.4 907.9 1097.8 910.6 1095.1C913.2 1092.4 915.9 1088.9 918.0 1085.5C920.2 1082.1 921.1 1077.7 923.4 1074.8C925.7 1072.0 929.2 1069.5 931.9 1068.4C934.6 1067.4 936.9 1067.9 939.4 1068.4C941.8 1069.0 944.5 1071.8 946.8 1071.6C949.1 1071.5 951.3 1069.0 953.2 1067.4C955.2 1065.8 956.8 1062.6 958.6 1062.0C960.3 1061.5 962.1 1062.0 963.9 1064.2C965.7 1066.3 967.1 1070.4 969.2 1074.8C971.3 1079.3 974.0 1087.6 976.7 1090.8C979.3 1094.0 982.5 1093.1 985.2 1094.0C987.9 1094.9 990.5 1094.6 992.7 1096.2C994.8 1097.8 995.7 1101.5 998.0 1103.6C1000.3 1105.8 1002.6 1107.9 1006.5 1109.0C1010.4 1110.0 1016.5 1110.4 1021.4 1110.0C1026.4 1109.7 1032.1 1107.7 1036.4 1106.8C1040.6 1105.9 1043.5 1105.0 1047.0 1104.7C1050.6 1104.3 1054.5 1106.3 1057.7 1104.7C1060.9 1103.1 1063.4 1097.8 1066.2 1095.1C1069.1 1092.4 1071.9 1091.0 1074.8 1088.7C1077.6 1086.4 1080.8 1085.0 1083.3 1081.2C1085.8 1077.5 1087.7 1073.1 1089.7 1066.3C1091.6 1059.6 1093.2 1048.9 1095.0 1040.7C1096.8 1032.6 1098.7 1024.7 1100.3 1017.3C1101.9 1009.8 1103.3 1000.7 1104.6 995.9C1106.0 991.2 1107.3 990.1 1108.4 988.5C1109.6 986.9 1110.4 985.5 1111.4 986.4C1112.5 987.2 1113.7 988.3 1114.8 993.8C1116.0 999.3 1117.3 1009.5 1118.5 1019.4C1119.6 1029.4 1120.5 1043.6 1121.7 1053.5C1122.8 1063.5 1123.6 1072.9 1125.5 1079.1C1127.4 1085.3 1130.5 1088.7 1132.8 1090.8C1135.1 1093.0 1137.1 1090.3 1139.2 1091.9C1141.3 1093.5 1144.0 1097.8 1145.6 1100.4C1147.2 1103.1 1147.7 1106.3 1148.8 1107.9C1149.9 1109.5 1150.9 1110.6 1152.0 1110.0C1153.0 1109.5 1154.1 1110.6 1155.2 1104.7C1156.2 1098.8 1157.3 1084.8 1158.4 1074.8C1159.4 1064.9 1160.6 1054.9 1161.6 1045.0C1162.6 1035.0 1163.5 1021.9 1164.3 1015.1C1165.2 1008.4 1165.9 1006.6 1166.9 1004.5C1167.9 1002.3 1169.0 1001.6 1170.1 1002.3C1171.2 1003.1 1172.2 1003.1 1173.3 1008.7C1174.4 1014.4 1175.3 1026.5 1176.5 1036.5C1177.7 1046.4 1179.2 1058.8 1180.8 1068.4C1182.4 1078.0 1183.8 1088.3 1186.1 1094.0C1188.4 1099.7 1192.0 1100.2 1194.6 1102.6C1197.3 1104.9 1200.0 1107.0 1202.1 1107.9C1204.2 1108.8 1205.3 1109.3 1207.4 1107.9C1209.6 1106.5 1212.8 1103.4 1214.9 1099.4C1217.0 1095.3 1218.4 1089.9 1220.2 1083.4C1222.0 1076.8 1223.9 1066.0 1225.5 1059.9C1227.1 1053.9 1228.4 1049.4 1229.8 1047.1C1231.2 1044.8 1232.7 1045.0 1234.1 1046.1C1235.5 1047.1 1236.7 1048.7 1238.3 1053.5C1239.9 1058.3 1242.1 1067.4 1243.7 1074.8C1245.3 1082.3 1245.8 1092.6 1247.9 1098.3C1250.1 1104.0 1252.9 1107.1 1256.5 1109.0C1260.0 1110.8 1265.7 1109.2 1269.3 1109.4C1272.8 1109.6 1274.6 1110.8 1277.8 1110.0C1281.0 1109.2 1285.2 1107.5 1288.4 1104.7C1291.6 1101.8 1294.5 1095.8 1297.0 1093.0C1299.5 1090.1 1300.9 1088.9 1303.4 1087.6C1305.9 1086.4 1309.4 1087.3 1311.9 1085.5C1314.4 1083.7 1316.5 1082.3 1318.3 1077.0C1320.1 1071.6 1321.1 1061.7 1322.6 1053.5C1324.0 1045.3 1325.2 1034.7 1326.8 1027.9C1328.4 1021.2 1330.6 1017.1 1332.2 1013.0C1333.8 1008.9 1334.9 1005.3 1336.4 1003.4C1337.9 1001.6 1339.5 1001.0 1341.1 1001.9C1342.7 1002.8 1344.3 1004.4 1346.0 1008.7C1347.7 1013.1 1349.6 1019.0 1351.3 1027.9C1353.1 1036.8 1354.9 1052.1 1356.7 1062.0C1358.5 1072.0 1360.4 1081.9 1362.0 1087.6C1363.6 1093.3 1364.5 1094.2 1366.3 1096.2C1368.0 1098.1 1370.0 1099.3 1372.7 1099.4C1375.3 1099.4 1379.4 1096.2 1382.3 1096.6C1385.1 1096.9 1387.2 1099.6 1389.7 1101.5C1392.2 1103.4 1394.9 1106.1 1397.2 1107.9C1399.5 1109.7 1401.8 1111.3 1403.6 1112.2C1405.4 1113.0 1406.4 1114.5 1407.8 1113.2C1409.3 1112.0 1410.7 1111.8 1412.1 1104.7C1413.5 1097.6 1415.1 1083.4 1416.4 1070.6C1417.6 1057.8 1418.5 1040.4 1419.6 1027.9C1420.6 1015.5 1421.7 1003.1 1422.8 995.9C1423.8 988.8 1425.0 987.2 1426.0 985.3C1426.9 983.3 1427.6 983.2 1428.5 984.2C1429.5 985.3 1430.6 985.8 1431.7 991.7C1432.9 997.5 1434.0 1009.8 1435.6 1019.4C1437.1 1029.0 1438.9 1040.7 1440.9 1049.3C1442.9 1057.8 1444.8 1064.5 1447.3 1070.6C1449.8 1076.6 1452.8 1081.1 1455.8 1085.5C1458.8 1089.9 1462.4 1093.1 1465.4 1097.2C1468.4 1101.3 1471.1 1107.5 1473.9 1110.0C1476.8 1112.6 1478.2 1112.1 1482.5 1112.6C1486.7 1113.0 1494.5 1113.2 1499.5 1112.8C1504.6 1112.3 1508.1 1110.9 1512.8 1109.9C1517.5 1108.8 1522.7 1107.6 1527.7 1106.7C1532.7 1105.7 1538.4 1104.9 1542.6 1103.9C1546.9 1102.9 1550.1 1101.6 1553.3 1100.7C1556.5 1099.8 1559.0 1098.4 1561.8 1098.6C1564.7 1098.7 1566.8 1101.6 1570.4 1101.7C1573.9 1101.9 1579.6 1100.7 1583.2 1099.6C1586.7 1098.6 1589.0 1096.8 1591.7 1095.4C1594.3 1093.9 1596.3 1091.4 1599.1 1090.7C1602.0 1090.0 1605.9 1092.1 1608.7 1091.1C1611.6 1090.1 1614.1 1088.6 1616.2 1084.7C1618.3 1080.8 1620.1 1074.4 1621.5 1067.6C1623.0 1060.9 1623.7 1049.9 1624.7 1044.2C1625.8 1038.5 1626.7 1036.7 1627.9 1033.5C1629.2 1030.3 1631.0 1026.8 1632.2 1025.0C1633.4 1023.2 1634.2 1022.1 1635.4 1022.9C1636.6 1023.6 1638.4 1025.3 1639.7 1029.3C1640.9 1033.2 1641.6 1039.6 1642.9 1046.3C1644.1 1053.1 1645.7 1061.9 1647.1 1069.8C1648.5 1077.6 1649.8 1087.7 1651.4 1093.2C1653.0 1098.7 1654.8 1100.7 1656.7 1102.8C1658.7 1104.9 1661.0 1106.0 1663.1 1106.0C1665.2 1106.0 1667.6 1104.4 1669.5 1102.8C1671.5 1101.2 1672.7 1097.8 1674.8 1096.4C1677.0 1095.0 1679.8 1096.1 1682.3 1094.3C1684.8 1092.5 1687.3 1089.5 1689.8 1085.8C1692.3 1082.0 1695.1 1075.3 1697.2 1071.9C1699.4 1068.5 1701.0 1066.7 1702.6 1065.5C1704.2 1064.3 1704.9 1063.7 1706.8 1064.4C1708.8 1065.1 1711.8 1069.8 1714.3 1069.8C1716.8 1069.8 1719.4 1066.9 1721.7 1064.4C1724.1 1061.9 1726.0 1057.3 1728.1 1054.8C1730.3 1052.4 1732.4 1050.5 1734.5 1049.9C1736.7 1049.4 1739.0 1049.8 1740.9 1051.6C1742.9 1053.5 1744.1 1057.7 1746.3 1061.2C1748.4 1064.8 1751.4 1070.7 1753.7 1073.0C1756.0 1075.3 1757.6 1075.5 1760.1 1075.1C1762.6 1074.7 1766.0 1071.4 1768.7 1070.8C1771.3 1070.3 1773.8 1069.6 1776.1 1071.9C1778.4 1074.2 1780.6 1079.7 1782.5 1084.7C1784.5 1089.7 1786.1 1098.4 1787.8 1101.7C1789.6 1105.1 1791.4 1105.7 1793.2 1104.9C1795.0 1104.2 1796.7 1100.5 1798.5 1097.5C1800.3 1094.5 1802.2 1092.9 1803.8 1086.8C1805.4 1080.8 1806.9 1070.8 1808.1 1061.2C1809.3 1051.6 1810.2 1039.6 1811.3 1029.3C1812.4 1018.9 1813.4 1006.9 1814.5 999.4C1815.6 991.9 1816.6 987.3 1817.7 984.5C1818.8 981.6 1819.8 980.9 1820.9 982.3C1822.0 983.8 1823.3 985.5 1824.5 993.0C1825.8 1000.5 1827.0 1014.3 1828.4 1027.1C1829.7 1039.9 1831.2 1058.0 1832.6 1069.8C1834.0 1081.5 1835.5 1090.2 1836.9 1097.5C1838.3 1104.8 1839.7 1110.1 1841.2 1113.5C1842.6 1116.9 1843.8 1118.3 1845.4 1117.7C1847.0 1117.2 1849.0 1114.0 1850.7 1110.3C1852.5 1106.5 1854.5 1099.1 1856.1 1095.4C1857.7 1091.6 1858.6 1089.1 1860.3 1087.9C1862.1 1086.6 1865.0 1086.8 1866.7 1087.9C1868.5 1089.0 1869.4 1093.9 1871.0 1094.3C1872.6 1094.6 1874.9 1094.5 1876.3 1090.0C1877.8 1085.6 1878.5 1077.1 1879.5 1067.6C1880.6 1058.2 1881.7 1047.0 1882.7 1033.5C1883.7 1020.0 1884.7 1000.8 1885.5 986.6C1886.3 972.4 1887.0 959.2 1887.6 948.2C1888.3 937.3 1889.2 925.5 1889.6 920.9" stroke="#0000ff"/>
<path d="M116.9 908.7C118.5 908.3 123.0 905.3 126.4 905.9C129.7 906.5 133.7 913.4 136.9 912.2C140.2 911.1 141.6 901.7 145.7 898.9C149.8 896.1 156.6 898.0 161.6 895.4C166.6 892.7 171.2 885.9 175.6 883.0C180.0 880.2 183.8 879.1 188.0 878.5C192.1 877.9 196.5 877.0 200.3 879.5C204.1 882.0 207.3 888.6 210.8 893.6C214.3 898.6 217.9 905.7 221.4 909.4C224.9 913.1 228.1 916.6 231.9 915.8C235.7 914.9 239.8 907.4 244.2 904.1C248.6 900.9 252.5 898.0 258.3 896.1C264.2 894.1 271.8 893.4 279.4 892.5C287.0 891.7 297.6 890.7 304.1 891.1C310.5 891.6 312.8 895.4 318.1 895.4C323.4 895.4 330.1 892.2 335.7 891.1C341.3 890.1 346.9 888.5 351.5 889.0C356.2 889.5 359.5 892.1 363.9 894.3C368.3 896.5 373.2 899.9 377.9 902.4C382.6 904.9 387.3 906.8 392.0 909.4C396.7 912.1 399.6 916.5 406.1 918.2C412.5 920.0 423.7 920.1 430.7 920.0C437.7 919.9 441.3 917.2 448.3 917.5C455.3 917.8 463.5 920.9 472.9 921.7C482.3 922.6 492.3 922.1 504.6 922.4C516.9 922.7 537.4 924.2 546.8 923.5C556.2 922.8 555.0 921.0 560.9 918.2C566.7 915.5 574.9 909.6 582.0 907.0C589.0 904.3 597.2 902.9 603.1 902.4C609.0 901.9 611.9 904.4 617.2 904.1C622.4 903.9 628.3 900.9 634.8 900.6C641.2 900.3 648.8 901.3 655.9 902.4C662.9 903.4 670.5 906.4 677.0 907.0C683.4 907.5 688.7 904.9 694.6 905.9C700.4 906.9 706.3 910.9 712.2 912.9C718.0 915.0 723.9 916.2 729.7 918.2C735.6 920.3 743.8 924.1 747.3 925.3C750.8 926.4 748.3 925.5 750.7 924.9C753.0 924.4 757.4 923.2 761.3 921.7C765.2 920.3 770.6 918.9 774.1 916.4C777.7 913.9 779.8 908.8 782.6 906.8C785.5 904.9 788.0 905.2 791.2 904.7C794.4 904.2 798.3 904.3 801.8 903.6C805.4 902.9 809.3 902.2 812.5 900.4C815.7 898.6 818.5 894.9 821.0 893.0C823.5 891.0 824.9 889.4 827.4 888.7C829.9 888.0 833.6 889.6 835.9 888.7C838.3 887.8 839.7 886.7 841.3 883.4C842.9 880.0 844.3 872.2 845.5 868.4C846.8 864.7 847.7 862.6 848.7 861.0C849.8 859.4 850.7 858.0 851.9 858.8C853.2 859.7 854.8 861.9 856.2 866.3C857.6 870.8 858.9 879.5 860.5 885.5C862.1 891.5 864.0 898.3 865.8 902.6C867.6 906.8 869.2 909.3 871.1 911.1C873.1 912.9 874.9 913.4 877.5 913.2C880.2 913.0 883.7 910.9 887.1 910.0C890.5 909.1 894.2 909.1 897.8 907.9C901.3 906.6 905.2 905.9 908.4 902.6C911.6 899.2 914.7 892.3 917.0 887.6C919.3 883.0 920.5 877.3 922.3 874.8C924.1 872.4 925.5 873.3 927.6 873.1C929.8 873.0 932.8 872.8 935.1 873.8C937.4 874.8 939.4 878.2 941.5 879.1C943.6 880.0 945.8 880.0 947.9 879.1C950.0 878.2 952.3 875.2 954.3 873.8C956.2 872.4 957.8 870.0 959.6 870.6C961.4 871.1 963.2 873.6 964.9 877.0C966.7 880.3 968.1 886.6 970.3 890.8C972.4 895.1 974.5 899.7 977.7 902.6C980.9 905.4 985.4 905.4 989.5 907.9C993.6 910.4 998.0 915.2 1002.3 917.5C1006.5 919.7 1011.1 920.7 1015.1 921.3C1019.0 922.0 1021.8 922.0 1025.7 921.3C1029.6 920.7 1034.6 918.6 1038.5 917.5C1042.4 916.4 1045.6 915.8 1049.2 914.9C1052.7 914.0 1056.6 914.2 1059.8 912.2C1063.0 910.1 1065.5 905.4 1068.4 902.6C1071.2 899.7 1074.0 897.9 1076.9 895.1C1079.7 892.3 1082.9 890.7 1085.4 885.5C1087.9 880.3 1089.9 873.1 1091.8 864.2C1093.8 855.3 1095.5 841.8 1097.1 832.2C1098.7 822.6 1100.2 815.1 1101.4 806.6C1102.7 798.1 1103.5 787.6 1104.6 781.0C1105.7 774.4 1106.7 770.1 1107.8 767.2C1108.9 764.3 1110.2 762.7 1111.4 763.5C1112.7 764.4 1114.1 766.0 1115.3 772.5C1116.4 779.0 1117.4 791.3 1118.5 802.3C1119.5 813.4 1120.5 827.2 1121.7 838.6C1122.8 850.0 1123.6 862.8 1125.5 870.6C1127.4 878.3 1130.7 882.7 1132.8 885.1C1134.9 887.5 1136.3 883.9 1138.1 885.1C1139.9 886.2 1141.9 888.1 1143.5 891.9C1145.1 895.7 1146.2 904.2 1147.7 907.9C1149.2 911.6 1151.0 914.1 1152.4 914.3C1153.8 914.5 1155.1 914.5 1156.2 909.0C1157.4 903.4 1158.4 891.5 1159.4 881.2C1160.5 870.9 1161.6 856.4 1162.6 847.1C1163.7 837.9 1164.7 830.2 1165.8 825.8C1167.0 821.4 1168.2 820.1 1169.5 820.5C1170.7 820.8 1172.1 822.4 1173.3 827.9C1174.5 833.4 1175.3 843.9 1176.5 853.5C1177.7 863.1 1179.3 876.4 1180.8 885.5C1182.2 894.6 1182.9 902.7 1185.0 907.9C1187.2 913.0 1190.9 914.1 1193.6 916.4C1196.2 918.7 1198.9 920.7 1201.0 921.7C1203.2 922.8 1204.4 923.7 1206.4 922.8C1208.3 921.9 1210.6 920.1 1212.8 916.4C1214.9 912.7 1217.2 907.4 1219.1 900.4C1221.1 893.5 1222.9 881.9 1224.5 874.8C1226.1 867.7 1227.3 861.3 1228.7 857.8C1230.2 854.2 1231.6 853.2 1233.0 853.5C1234.4 853.9 1235.7 855.3 1237.3 859.9C1238.9 864.5 1240.8 873.8 1242.6 881.2C1244.4 888.7 1245.8 899.0 1247.9 904.7C1250.1 910.4 1252.6 912.9 1255.4 915.4C1258.2 917.8 1261.3 919.4 1265.0 919.6C1268.7 919.8 1273.9 918.0 1277.8 916.4C1281.7 914.8 1284.9 913.0 1288.4 910.0C1292.0 907.0 1295.6 900.8 1299.1 898.3C1302.7 895.8 1306.7 896.9 1309.8 895.1C1312.8 893.3 1315.3 893.9 1317.2 887.6C1319.2 881.4 1320.1 867.7 1321.5 857.8C1322.9 847.8 1324.3 836.8 1325.8 827.9C1327.2 819.0 1328.6 811.6 1330.0 804.5C1331.4 797.4 1333.0 789.7 1334.3 785.3C1335.5 780.8 1336.2 779.3 1337.5 777.8C1338.7 776.3 1340.3 775.3 1341.7 776.3C1343.2 777.4 1344.6 778.8 1346.0 784.2C1347.4 789.6 1348.9 798.6 1350.3 808.7C1351.7 818.9 1352.9 832.9 1354.5 845.0C1356.1 857.1 1358.3 871.3 1359.9 881.2C1361.5 891.2 1362.4 899.5 1364.1 904.7C1365.9 909.8 1367.7 911.0 1370.5 912.2C1373.4 913.3 1378.0 910.8 1381.2 911.5C1384.4 912.2 1386.9 914.4 1389.7 916.4C1392.6 918.5 1395.4 921.6 1398.3 923.9C1401.1 926.1 1404.6 930.2 1406.8 929.9C1408.9 929.5 1409.6 928.1 1411.0 921.7C1412.5 915.4 1414.1 905.8 1415.3 891.9C1416.6 878.0 1417.4 854.6 1418.5 838.6C1419.6 822.6 1420.6 806.6 1421.7 795.9C1422.8 785.3 1423.8 778.6 1424.9 774.6C1426.0 770.6 1427.0 771.0 1428.1 772.1C1429.2 773.1 1430.5 774.2 1431.7 781.0C1433.0 787.8 1434.2 802.3 1435.6 813.0C1436.9 823.7 1438.1 835.0 1439.8 845.0C1441.6 854.9 1443.7 864.9 1446.2 872.7C1448.7 880.5 1451.6 886.0 1454.8 891.9C1458.0 897.8 1462.0 902.9 1465.4 907.9C1468.8 912.9 1472.2 919.1 1475.0 921.7C1477.9 924.4 1478.7 923.2 1482.5 923.9C1486.2 924.6 1490.9 925.6 1497.4 926.0C1503.9 926.4 1513.8 926.4 1521.3 926.4C1528.9 926.4 1536.2 926.6 1542.6 926.0C1549.0 925.4 1553.7 923.5 1559.7 922.8C1565.7 922.1 1573.9 922.8 1578.9 921.7C1583.9 920.7 1586.5 918.4 1589.6 916.4C1592.6 914.5 1594.5 911.4 1597.0 910.0C1599.5 908.6 1602.0 908.4 1604.5 907.9C1607.0 907.4 1609.8 908.4 1611.9 906.8C1614.1 905.2 1615.5 902.9 1617.3 898.3C1619.0 893.7 1621.2 886.6 1622.6 879.1C1624.0 871.6 1624.7 861.7 1625.8 853.5C1626.9 845.3 1627.9 835.9 1629.0 830.1C1630.1 824.2 1631.1 820.6 1632.2 818.3C1633.3 816.0 1634.2 815.0 1635.4 816.2C1636.6 817.4 1638.4 820.3 1639.7 825.8C1640.9 831.3 1641.6 840.0 1642.9 849.3C1644.1 858.5 1645.5 872.0 1647.1 881.2C1648.7 890.5 1650.5 898.3 1652.5 904.7C1654.4 911.1 1656.7 916.5 1658.8 919.6C1661.0 922.7 1663.1 923.8 1665.2 923.5C1667.4 923.1 1669.0 919.5 1671.6 917.5C1674.3 915.4 1678.2 913.4 1681.2 911.1C1684.3 908.8 1687.3 907.5 1689.8 903.6C1692.3 899.7 1694.2 892.4 1696.2 887.6C1698.1 882.8 1699.7 878.0 1701.5 874.8C1703.3 871.6 1704.7 869.6 1706.8 868.4C1709.0 867.3 1712.0 869.0 1714.3 867.8C1716.6 866.6 1718.7 864.8 1720.7 861.0C1722.6 857.2 1724.4 849.1 1726.0 845.0C1727.6 840.9 1728.7 838.2 1730.3 836.5C1731.9 834.8 1733.8 834.4 1735.6 834.8C1737.4 835.1 1738.8 836.4 1740.9 838.6C1743.1 840.8 1745.9 845.7 1748.4 848.2C1750.9 850.7 1753.6 853.3 1755.9 853.5C1758.2 853.7 1760.3 851.6 1762.3 849.3C1764.2 846.9 1765.8 841.6 1767.6 839.7C1769.4 837.7 1771.1 837.5 1772.9 837.5C1774.7 837.5 1776.3 837.9 1778.3 839.7C1780.2 841.4 1782.3 846.1 1784.6 848.2C1787.0 850.3 1790.0 851.6 1792.1 852.5C1794.2 853.3 1795.8 851.6 1797.4 853.5C1799.0 855.5 1800.3 862.8 1801.7 864.2C1803.1 865.6 1804.7 866.7 1806.0 862.0C1807.2 857.4 1808.1 848.2 1809.2 836.5C1810.2 824.7 1811.3 805.5 1812.4 791.7C1813.4 777.8 1814.5 762.2 1815.6 753.3C1816.6 744.4 1817.8 741.2 1818.8 738.4C1819.8 735.6 1820.6 734.9 1821.5 736.7C1822.5 738.5 1823.6 740.9 1824.5 749.0C1825.5 757.1 1826.3 770.7 1827.3 785.3C1828.3 799.9 1829.4 819.4 1830.5 836.5C1831.6 853.5 1832.6 874.1 1833.7 887.6C1834.8 901.1 1835.6 910.6 1836.9 917.5C1838.1 924.4 1839.4 928.0 1841.2 929.2C1842.9 930.5 1845.1 926.4 1847.5 924.9C1850.0 923.5 1853.6 923.5 1856.1 920.7C1858.6 917.8 1860.5 912.3 1862.5 907.9C1864.4 903.4 1866.0 897.4 1867.8 894.0C1869.6 890.7 1871.2 888.3 1873.1 887.6C1875.1 886.9 1877.6 888.5 1879.5 889.8C1881.5 891.0 1883.4 893.1 1884.9 895.1C1886.3 897.1 1887.3 899.4 1888.1 901.5C1888.8 903.6 1889.3 906.8 1889.6 907.9" stroke="#00ffff"/>
<path d="M116.9 700.8C120.5 700.5 132.7 700.5 138.7 699.0C144.7 697.6 147.5 694.3 152.8 692.0C158.0 689.7 163.3 686.5 170.4 685.3C177.4 684.1 188.5 683.4 195.0 684.9C201.4 686.5 204.4 691.5 209.1 694.8C213.8 698.1 219.0 702.7 223.1 704.6C227.2 706.6 229.6 707.2 233.7 706.4C237.8 705.6 240.7 701.3 247.8 700.1C254.8 698.8 266.5 699.5 275.9 699.0C285.3 698.6 295.8 697.1 304.1 697.3C312.3 697.4 317.0 699.9 325.2 700.1C333.4 700.3 345.7 698.0 353.3 698.3C360.9 698.6 365.0 700.0 370.9 701.8C376.8 703.7 382.6 707.5 388.5 709.6C394.3 711.6 398.5 714.0 406.1 714.1C413.7 714.3 423.7 711.8 434.2 710.6C444.8 709.5 457.7 707.6 469.4 707.1C481.1 706.6 492.9 707.3 504.6 707.8C516.3 708.3 530.4 710.3 539.8 709.9C549.1 709.5 552.7 707.2 560.9 705.4C569.1 703.5 576.7 700.4 589.0 699.0C601.3 697.7 622.4 697.4 634.8 697.3C647.1 697.1 652.3 697.7 662.9 698.3C673.5 699.0 688.7 700.1 698.1 701.1C707.5 702.2 712.7 703.2 719.2 704.6C725.6 706.1 730.8 708.8 736.8 709.9C742.7 711.1 749.8 712.3 754.9 711.5C760.1 710.7 763.1 707.4 767.7 705.1C772.3 702.8 778.4 699.2 782.6 697.6C786.9 696.0 789.8 696.0 793.3 695.5C796.9 695.0 800.6 695.5 804.0 694.4C807.3 693.4 810.7 690.3 813.6 689.1C816.4 687.9 818.4 687.7 821.0 687.0C823.7 686.3 826.7 686.3 829.6 684.8C832.4 683.4 835.6 680.8 838.1 678.4C840.6 676.1 842.3 672.6 844.5 671.0C846.6 669.4 848.8 668.1 850.9 668.8C852.9 669.6 855.1 672.2 856.8 675.2C858.6 678.3 859.9 683.2 861.5 687.0C863.2 690.7 865.1 695.3 866.9 697.6C868.6 699.9 869.9 700.5 872.2 700.8C874.5 701.2 877.9 700.2 880.7 699.8C883.6 699.3 886.1 698.5 889.3 698.1C892.5 697.6 896.4 698.3 899.9 697.2C903.5 696.1 907.7 693.8 910.6 691.2C913.4 688.6 915.0 684.8 917.0 681.6C918.9 678.4 920.5 674.0 922.3 672.0C924.1 670.1 925.3 669.6 927.6 669.9C929.9 670.3 933.5 672.6 936.2 674.2C938.8 675.8 941.1 678.8 943.6 679.5C946.1 680.2 948.8 679.2 951.1 678.4C953.4 677.7 955.4 675.2 957.5 675.2C959.6 675.2 961.9 676.1 963.9 678.4C965.8 680.8 967.1 685.9 969.2 689.1C971.3 692.3 973.7 695.5 976.7 697.6C979.7 699.8 983.4 700.3 987.3 701.9C991.2 703.5 995.5 706.0 1000.1 707.2C1004.7 708.5 1010.1 709.2 1015.1 709.4C1020.0 709.5 1025.0 709.0 1030.0 708.3C1035.0 707.6 1040.3 706.3 1044.9 705.1C1049.5 703.9 1053.8 703.0 1057.7 700.8C1061.6 698.7 1064.8 694.6 1068.4 692.3C1071.9 690.0 1075.8 689.6 1079.0 687.0C1082.2 684.3 1085.2 680.9 1087.5 676.3C1089.9 671.7 1091.3 666.0 1092.9 659.3C1094.5 652.5 1095.7 643.3 1097.1 635.8C1098.6 628.3 1100.2 621.9 1101.4 614.5C1102.7 607.0 1103.5 597.1 1104.6 591.0C1105.7 585.0 1106.7 581.1 1107.8 578.2C1108.9 575.4 1110.2 573.6 1111.4 574.0C1112.7 574.3 1114.1 576.1 1115.3 580.4C1116.4 584.6 1117.4 590.7 1118.5 599.6C1119.5 608.4 1120.6 623.7 1121.7 633.7C1122.7 643.6 1123.8 652.3 1124.9 659.3C1125.9 666.2 1126.6 672.4 1128.1 675.2C1129.6 678.1 1131.8 676.5 1133.9 676.3C1135.9 676.1 1138.3 672.8 1140.3 674.2C1142.2 675.6 1144.0 680.6 1145.6 684.8C1147.2 689.1 1148.4 696.7 1149.9 699.8C1151.3 702.8 1152.7 703.7 1154.1 703.0C1155.5 702.3 1157.1 699.6 1158.4 695.5C1159.6 691.4 1160.6 685.2 1161.6 678.4C1162.6 671.7 1163.5 660.5 1164.3 655.0C1165.2 649.5 1165.9 647.3 1166.9 645.4C1167.9 643.4 1169.0 642.4 1170.1 643.3C1171.2 644.2 1172.5 645.6 1173.7 650.7C1175.0 655.9 1176.0 666.4 1177.6 674.2C1179.1 682.0 1180.9 692.5 1182.9 697.6C1184.9 702.8 1186.6 703.1 1189.3 705.1C1192.0 707.1 1196.0 708.3 1198.9 709.4C1201.7 710.4 1203.9 712.2 1206.4 711.5C1208.8 710.8 1211.5 708.5 1213.8 705.1C1216.1 701.7 1218.4 696.4 1220.2 691.2C1222.0 686.1 1223.1 679.3 1224.5 674.2C1225.9 669.0 1227.4 663.3 1228.7 660.3C1230.1 657.3 1230.9 655.9 1232.4 656.1C1233.8 656.2 1235.6 657.3 1237.3 661.4C1239.0 665.5 1240.8 674.5 1242.6 680.6C1244.4 686.6 1245.6 693.4 1247.9 697.6C1250.2 701.9 1253.6 704.6 1256.5 706.2C1259.3 707.8 1261.8 707.5 1265.0 707.2C1268.2 706.9 1272.1 705.9 1275.7 704.5C1279.2 703.0 1282.8 700.7 1286.3 698.7C1289.9 696.7 1293.4 693.7 1297.0 692.3C1300.5 690.9 1304.4 691.6 1307.6 690.2C1310.8 688.7 1313.9 688.9 1316.2 683.8C1318.5 678.6 1319.9 668.3 1321.5 659.3C1323.1 650.2 1324.3 638.3 1325.8 629.4C1327.2 620.5 1328.6 612.9 1330.0 605.9C1331.4 599.0 1333.0 592.1 1334.3 587.8C1335.5 583.6 1336.3 582.0 1337.5 580.4C1338.7 578.8 1340.0 577.5 1341.3 578.2C1342.7 578.9 1344.1 579.3 1345.6 584.6C1347.1 590.0 1348.8 600.6 1350.3 610.2C1351.8 619.8 1353.1 631.9 1354.5 642.2C1356.0 652.5 1357.2 662.8 1358.8 672.0C1360.4 681.3 1362.2 691.9 1364.1 697.6C1366.1 703.3 1367.2 704.7 1370.5 706.2C1373.9 707.6 1380.7 705.3 1384.4 706.2C1388.1 707.1 1390.1 710.1 1392.9 711.5C1395.8 712.9 1399.1 713.3 1401.4 714.7C1403.8 716.1 1405.5 720.4 1407.2 720.0C1408.9 719.7 1410.3 717.7 1411.7 712.6C1413.0 707.4 1414.2 700.8 1415.3 689.1C1416.4 677.4 1417.4 656.1 1418.5 642.2C1419.6 628.3 1420.7 614.7 1421.7 605.9C1422.7 597.2 1423.5 593.2 1424.5 590.0C1425.4 586.7 1426.4 585.8 1427.5 586.3C1428.5 586.9 1429.7 588.8 1430.9 593.2C1432.0 597.5 1433.2 604.2 1434.5 612.3C1435.8 620.5 1436.8 632.6 1438.8 642.2C1440.7 651.8 1443.6 662.8 1446.2 669.9C1448.9 677.0 1451.7 680.6 1454.8 684.8C1457.8 689.1 1461.2 691.1 1464.3 695.5C1467.5 699.9 1470.9 708.3 1473.9 711.5C1477.0 714.7 1479.3 714.5 1482.5 714.7C1485.7 714.9 1486.7 712.8 1493.1 712.6C1499.6 712.3 1511.3 712.9 1521.3 713.0C1531.4 713.1 1543.0 713.2 1553.3 713.0C1563.6 712.7 1576.8 712.5 1583.2 711.5C1589.6 710.5 1589.2 708.8 1591.7 707.2C1594.2 705.6 1595.6 703.1 1598.1 701.9C1600.6 700.7 1604.1 700.3 1606.6 699.8C1609.1 699.2 1611.1 700.1 1613.0 698.7C1615.0 697.3 1616.7 695.0 1618.3 691.2C1619.9 687.5 1621.4 683.1 1622.6 676.3C1623.8 669.6 1624.7 658.5 1625.8 650.7C1626.9 642.9 1627.9 634.6 1629.0 629.4C1630.1 624.3 1631.2 621.8 1632.2 619.8C1633.2 617.9 1633.7 616.8 1634.8 617.7C1635.8 618.6 1637.4 621.1 1638.6 625.1C1639.8 629.2 1640.7 635.8 1641.8 642.2C1642.9 648.6 1643.7 656.4 1645.0 663.5C1646.2 670.6 1647.7 678.8 1649.3 684.8C1650.9 690.9 1652.6 695.7 1654.6 699.8C1656.5 703.9 1659.0 707.2 1661.0 709.4C1662.9 711.5 1664.4 712.7 1666.3 712.6C1668.3 712.4 1670.2 709.5 1672.7 708.3C1675.2 707.1 1678.4 706.5 1681.2 705.1C1684.1 703.7 1687.3 702.4 1689.8 699.8C1692.3 697.1 1694.2 693.4 1696.2 689.1C1698.1 684.8 1699.7 678.1 1701.5 674.2C1703.3 670.3 1704.7 667.2 1706.8 665.7C1709.0 664.1 1712.0 666.0 1714.3 664.6C1716.6 663.2 1718.9 660.5 1720.7 657.1C1722.5 653.7 1723.5 647.9 1724.9 644.3C1726.4 640.8 1727.4 637.4 1729.2 635.8C1731.0 634.2 1733.3 633.8 1735.6 634.7C1737.9 635.6 1740.8 639.2 1743.1 641.1C1745.4 643.0 1747.3 645.1 1749.5 646.0C1751.6 646.9 1753.7 647.3 1755.9 646.5C1758.0 645.6 1760.3 643.6 1762.3 641.1C1764.2 638.6 1765.8 633.8 1767.6 631.5C1769.4 629.2 1771.1 627.3 1772.9 627.3C1774.7 627.3 1776.7 630.5 1778.3 631.5C1779.9 632.5 1780.9 633.8 1782.5 633.2C1784.1 632.7 1785.9 629.9 1787.8 628.3C1789.8 626.8 1792.5 623.5 1794.2 624.1C1796.0 624.6 1797.3 627.8 1798.5 631.5C1799.8 635.3 1800.6 643.6 1801.7 646.5C1802.8 649.3 1803.8 650.4 1804.9 648.6C1806.0 646.8 1807.0 644.0 1808.1 635.8C1809.2 627.6 1810.3 611.6 1811.3 599.6C1812.3 587.5 1813.0 574.0 1813.9 563.3C1814.7 552.6 1815.7 541.6 1816.6 535.6C1817.5 529.5 1818.4 528.8 1819.2 527.1C1820.0 525.4 1820.7 524.3 1821.5 525.4C1822.4 526.4 1823.3 527.1 1824.1 533.5C1824.9 539.8 1825.3 550.2 1826.2 563.3C1827.1 576.5 1828.4 596.4 1829.4 612.3C1830.4 628.3 1831.3 645.4 1832.2 659.3C1833.1 673.1 1833.8 687.5 1834.8 695.5C1835.7 703.5 1836.9 705.3 1838.0 707.2C1839.0 709.2 1839.7 708.8 1841.2 707.2C1842.6 705.6 1844.7 698.5 1846.5 697.6C1848.3 696.7 1850.0 700.3 1851.8 701.9C1853.6 703.5 1855.5 707.1 1857.1 707.2C1858.7 707.4 1860.0 706.7 1861.4 703.0C1862.8 699.2 1864.4 692.8 1865.7 684.8C1866.9 676.8 1867.8 662.3 1868.9 655.0C1869.9 647.7 1870.8 644.2 1872.1 641.1C1873.3 638.1 1874.9 636.0 1876.3 636.9C1877.8 637.8 1879.4 641.3 1880.6 646.5C1881.8 651.6 1882.8 660.0 1883.8 667.8C1884.8 675.6 1885.6 687.0 1886.4 693.4C1887.1 699.8 1887.7 702.7 1888.3 706.2C1888.8 709.6 1889.3 712.7 1889.6 714.1" stroke="#ff00ff"/>
</g>
<text fill="#000" stroke="#000"><tspan x="282.0" y="1876.5" font-size="72.0" textLength="139.0" lengthAdjust="spacingAndGlyphs">3000</tspan></text>
<text fill="#000" stroke="#000"><tspan x="576.4" y="1876.5" font-size="72.0" textLength="138.8" lengthAdjust="spacingAndGlyphs">2500</tspan></text>
<text fill="#000" stroke="#000"><tspan x="873.4" y="1876.5" font-size="72.0" textLength="138.2" lengthAdjust="spacingAndGlyphs">2000</tspan></text>
<text fill="#000" stroke="#000"><tspan x="1170.8" y="1876.5" font-size="72.0" textLength="136.6" lengthAdjust="spacingAndGlyphs">1500</tspan></text>
<text fill="#000" stroke="#000"><tspan x="1463.8" y="1876.5" font-size="72.0" textLength="139.4" lengthAdjust="spacingAndGlyphs">1000</tspan></text>
<text fill="#000" stroke="#000"><tspan x="1775.3" y="1876.5" font-size="72.0" textLength="107.4" lengthAdjust="spacingAndGlyphs">500</tspan></text>
<text fill="#000" stroke="#000"><tspan x="674.1" y="1978.9" font-size="75.0" textLength="441.1" lengthAdjust="spacingAndGlyphs">Wavenumber</tspan><tspan> </tspan><tspan x="1135.9" y="1983.2" font-size="79.6" textLength="22.7" lengthAdjust="spacingAndGlyphs">[</tspan><tspan x="1159.8" y="1978.9" font-size="75.0" textLength="99.7" lengthAdjust="spacingAndGlyphs">cm</tspan><tspan x="1257.8" y="1952.4" font-size="53.0" textLength="26.3" lengthAdjust="spacingAndGlyphs">−</tspan><tspan x="1283.0" y="1949.1" font-size="53.0" textLength="26.3" lengthAdjust="spacingAndGlyphs">1</tspan><tspan x="1310.4" y="1983.2" font-size="79.6" textLength="22.7" lengthAdjust="spacingAndGlyphs">]</tspan></text>
<text fill="#000" stroke="#000" transform="translate(69.5,1142.8) rotate(-90)"><tspan x="-0.8" y="0.0" font-size="75.0" textLength="362.9" lengthAdjust="spacingAndGlyphs">Absorbance</tspan><tspan> </tspan><tspan x="381.6" y="4.3" font-size="79.6" textLength="22.8" lengthAdjust="spacingAndGlyphs">[</tspan><tspan x="404.6" y="0.0" font-size="75.0" textLength="120.6" lengthAdjust="spacingAndGlyphs">a.u.</tspan><tspan x="525.4" y="4.3" font-size="79.6" textLength="22.3" lengthAdjust="spacingAndGlyphs">]</tspan></text>
<text fill="#000000" stroke="#000000"><tspan x="134.7" y="1677.7" font-size="72.0" textLength="208.7" lengthAdjust="spacingAndGlyphs">Al(NO</tspan><tspan x="339.3" y="1697.0" font-size="48.0" textLength="25.5" lengthAdjust="spacingAndGlyphs">3</tspan><tspan x="363.5" y="1677.7" font-size="72.0" textLength="23.7" lengthAdjust="spacingAndGlyphs">)</tspan><tspan x="386.0" y="1697.0" font-size="48.0" textLength="24.6" lengthAdjust="spacingAndGlyphs">3</tspan><tspan> </tspan><tspan x="426.6" y="1677.7" font-size="72.0" textLength="35.2" lengthAdjust="spacingAndGlyphs">0</tspan><tspan> </tspan><tspan x="481.5" y="1677.7" font-size="72.0" textLength="150.8" lengthAdjust="spacingAndGlyphs">wt.%</tspan></text>
<text fill="#ff0000" stroke="#ff0000"><tspan x="132.6" y="1438.5" font-size="72.0" textLength="208.7" lengthAdjust="spacingAndGlyphs">Al(NO</tspan><tspan x="337.2" y="1457.8" font-size="48.0" textLength="25.5" lengthAdjust="spacingAndGlyphs">3</tspan><tspan x="361.4" y="1438.5" font-size="72.0" textLength="23.7" lengthAdjust="spacingAndGlyphs">)</tspan><tspan x="383.9" y="1457.8" font-size="48.0" textLength="24.6" lengthAdjust="spacingAndGlyphs">3</tspan><tspan> </tspan><tspan x="422.9" y="1438.5" font-size="72.0" textLength="38.6" lengthAdjust="spacingAndGlyphs">2</tspan><tspan> </tspan><tspan x="479.4" y="1438.5" font-size="72.0" textLength="150.8" lengthAdjust="spacingAndGlyphs">wt.%</tspan></text>
<text fill="#00ff00" stroke="#00ff00"><tspan x="131.6" y="1227.8" font-size="72.0" textLength="208.7" lengthAdjust="spacingAndGlyphs">Al(NO</tspan><tspan x="336.2" y="1247.1" font-size="48.0" textLength="25.5" lengthAdjust="spacingAndGlyphs">3</tspan><tspan x="360.4" y="1227.8" font-size="72.0" textLength="23.7" lengthAdjust="spacingAndGlyphs">)</tspan><tspan x="382.9" y="1247.1" font-size="48.0" textLength="24.6" lengthAdjust="spacingAndGlyphs">3</tspan><tspan> </tspan><tspan x="422.9" y="1227.8" font-size="72.0" textLength="34.7" lengthAdjust="spacingAndGlyphs">4</tspan><tspan> </tspan><tspan x="478.4" y="1227.8" font-size="72.0" textLength="150.8" lengthAdjust="spacingAndGlyphs">wt.%</tspan></text>
<text fill="#0000ff" stroke="#0000ff"><tspan x="137.9" y="1013.2" font-size="72.0" textLength="208.7" lengthAdjust="spacingAndGlyphs">Al(NO</tspan><tspan x="342.5" y="1032.5" font-size="48.0" textLength="25.5" lengthAdjust="spacingAndGlyphs">3</tspan><tspan x="366.7" y="1013.2" font-size="72.0" textLength="23.7" lengthAdjust="spacingAndGlyphs">)</tspan><tspan x="389.2" y="1032.5" font-size="48.0" textLength="24.6" lengthAdjust="spacingAndGlyphs">3</tspan><tspan> </tspan><tspan x="429.9" y="1013.2" font-size="72.0" textLength="35.1" lengthAdjust="spacingAndGlyphs">8</tspan><tspan> </tspan><tspan x="484.7" y="1013.2" font-size="72.0" textLength="150.8" lengthAdjust="spacingAndGlyphs">wt.%</tspan></text>
<text fill="#00ffff" stroke="#00ffff"><tspan x="142.1" y="825.0" font-size="72.0" textLength="208.7" lengthAdjust="spacingAndGlyphs">Al(NO</tspan><tspan x="346.7" y="844.3" font-size="48.0" textLength="25.5" lengthAdjust="spacingAndGlyphs">3</tspan><tspan x="370.9" y="825.0" font-size="72.0" textLength="23.7" lengthAdjust="spacingAndGlyphs">)</tspan><tspan x="393.4" y="844.3" font-size="48.0" textLength="24.6" lengthAdjust="spacingAndGlyphs">3</tspan><tspan> </tspan><tspan x="432.6" y="825.0" font-size="72.0" textLength="70.5" lengthAdjust="spacingAndGlyphs">16</tspan><tspan> </tspan><tspan x="523.2" y="825.0" font-size="72.0" textLength="150.8" lengthAdjust="spacingAndGlyphs">wt.%</tspan></text>
<text fill="#ff00ff" stroke="#ff00ff"><tspan x="144.9" y="632.2" font-size="72.0" textLength="208.7" lengthAdjust="spacingAndGlyphs">Al(NO</tspan><tspan x="349.5" y="651.5" font-size="48.0" textLength="25.5" lengthAdjust="spacingAndGlyphs">3</tspan><tspan x="373.7" y="632.2" font-size="72.0" textLength="23.7" lengthAdjust="spacingAndGlyphs">)</tspan><tspan x="396.2" y="651.5" font-size="48.0" textLength="24.6" lengthAdjust="spacingAndGlyphs">3</tspan><tspan> </tspan><tspan x="435.0" y="632.2" font-size="72.0" textLength="72.8" lengthAdjust="spacingAndGlyphs">32</tspan><tspan> </tspan><tspan x="526.0" y="632.2" font-size="72.0" textLength="150.8" lengthAdjust="spacingAndGlyphs">wt.%</tspan></text>
<text fill="#000" stroke="#000" transform="translate(866.6,447.3) rotate(-90)"><tspan x="2.5" y="1.1" font-size="66.9" style="stroke-width:4.1px;stroke-linejoin:miter">—</tspan><tspan x="78.8" y="0.0" font-size="72.0" textLength="138.9" lengthAdjust="spacingAndGlyphs">2155</tspan><tspan> </tspan><tspan x="234.6" y="0.0" font-size="72.0" textLength="92.6" lengthAdjust="spacingAndGlyphs">cm</tspan><tspan x="326.2" y="-27.8" font-size="47.0" textLength="26.1" lengthAdjust="spacingAndGlyphs">−</tspan><tspan x="349.9" y="-29.2" font-size="47.0" textLength="23.0" lengthAdjust="spacingAndGlyphs">1</tspan></text>
<text fill="#000" stroke="#000" transform="translate(967.4,447.3) rotate(-90)"><tspan x="2.5" y="1.1" font-size="66.9" style="stroke-width:4.1px;stroke-linejoin:miter">—</tspan><tspan x="78.8" y="0.0" font-size="72.0" textLength="138.9" lengthAdjust="spacingAndGlyphs">1999</tspan><tspan> </tspan><tspan x="234.6" y="0.0" font-size="72.0" textLength="92.6" lengthAdjust="spacingAndGlyphs">cm</tspan><tspan x="326.2" y="-27.8" font-size="47.0" textLength="26.1" lengthAdjust="spacingAndGlyphs">−</tspan><tspan x="349.9" y="-29.2" font-size="47.0" textLength="23.0" lengthAdjust="spacingAndGlyphs">1</tspan></text>
<text fill="#000" stroke="#000" transform="translate(1129.1,450.4) rotate(-90)"><tspan x="2.5" y="1.1" font-size="66.9" style="stroke-width:4.1px;stroke-linejoin:miter">—</tspan><tspan x="78.8" y="0.0" font-size="72.0" textLength="139.2" lengthAdjust="spacingAndGlyphs">1708</tspan><tspan> </tspan><tspan x="234.6" y="0.0" font-size="72.0" textLength="92.6" lengthAdjust="spacingAndGlyphs">cm</tspan><tspan x="326.2" y="-27.8" font-size="47.0" textLength="26.1" lengthAdjust="spacingAndGlyphs">−</tspan><tspan x="349.9" y="-29.2" font-size="47.0" textLength="23.0" lengthAdjust="spacingAndGlyphs">1</tspan></text>
<text fill="#000" stroke="#000" transform="translate(1191.8,453.1) rotate(-90)"><tspan x="2.5" y="1.1" font-size="66.9" style="stroke-width:4.1px;stroke-linejoin:miter">—</tspan><tspan x="78.8" y="0.0" font-size="72.0" textLength="138.9" lengthAdjust="spacingAndGlyphs">1615</tspan><tspan> </tspan><tspan x="234.6" y="0.0" font-size="72.0" textLength="92.6" lengthAdjust="spacingAndGlyphs">cm</tspan><tspan x="326.2" y="-27.8" font-size="47.0" textLength="26.1" lengthAdjust="spacingAndGlyphs">−</tspan><tspan x="349.9" y="-29.2" font-size="47.0" textLength="23.0" lengthAdjust="spacingAndGlyphs">1</tspan></text>
<text fill="#000" stroke="#000" transform="translate(1246.4,453.1) rotate(-90)"><tspan x="2.5" y="1.1" font-size="66.9" style="stroke-width:4.1px;stroke-linejoin:miter">—</tspan><tspan x="78.8" y="0.0" font-size="72.0" textLength="138.9" lengthAdjust="spacingAndGlyphs">1515</tspan><tspan> </tspan><tspan x="234.6" y="0.0" font-size="72.0" textLength="92.6" lengthAdjust="spacingAndGlyphs">cm</tspan><tspan x="326.2" y="-27.8" font-size="47.0" textLength="26.1" lengthAdjust="spacingAndGlyphs">−</tspan><tspan x="349.9" y="-29.2" font-size="47.0" textLength="23.0" lengthAdjust="spacingAndGlyphs">1</tspan></text>
<text fill="#000" stroke="#000" transform="translate(1361.4,457.0) rotate(-90)"><tspan x="2.5" y="1.1" font-size="66.9" style="stroke-width:4.1px;stroke-linejoin:miter">—</tspan><tspan x="78.8" y="0.0" font-size="72.0" textLength="139.3" lengthAdjust="spacingAndGlyphs">1320</tspan><tspan> </tspan><tspan x="234.6" y="0.0" font-size="72.0" textLength="92.6" lengthAdjust="spacingAndGlyphs">cm</tspan><tspan x="326.2" y="-27.8" font-size="47.0" textLength="26.1" lengthAdjust="spacingAndGlyphs">−</tspan><tspan x="349.9" y="-29.2" font-size="47.0" textLength="23.0" lengthAdjust="spacingAndGlyphs">1</tspan></text>
<text fill="#000" stroke="#000" transform="translate(1450.6,459.8) rotate(-90)"><tspan x="2.5" y="1.1" font-size="66.9" style="stroke-width:4.1px;stroke-linejoin:miter">—</tspan><tspan x="78.7" y="0.0" font-size="72.0" textLength="139.4" lengthAdjust="spacingAndGlyphs">1178</tspan><tspan> </tspan><tspan x="234.6" y="0.0" font-size="72.0" textLength="92.6" lengthAdjust="spacingAndGlyphs">cm</tspan><tspan x="326.2" y="-27.8" font-size="47.0" textLength="26.1" lengthAdjust="spacingAndGlyphs">−</tspan><tspan x="349.9" y="-29.2" font-size="47.0" textLength="23.0" lengthAdjust="spacingAndGlyphs">1</tspan></text>
<text fill="#000" stroke="#000" transform="translate(1656.4,462.6) rotate(-90)"><tspan x="2.5" y="1.1" font-size="66.9" style="stroke-width:4.1px;stroke-linejoin:miter">—</tspan><tspan x="80.2" y="0.0" font-size="72.0" textLength="103.2" lengthAdjust="spacingAndGlyphs">825</tspan><tspan> </tspan><tspan x="202.6" y="0.0" font-size="72.0" textLength="92.6" lengthAdjust="spacingAndGlyphs">cm</tspan><tspan x="294.2" y="-27.8" font-size="47.0" textLength="26.1" lengthAdjust="spacingAndGlyphs">−</tspan><tspan x="317.9" y="-29.2" font-size="47.0" textLength="23.0" lengthAdjust="spacingAndGlyphs">1</tspan></text>
<text fill="#000" stroke="#000" transform="translate(1751.7,467.4) rotate(-90)"><tspan x="2.5" y="1.1" font-size="66.9" style="stroke-width:4.1px;stroke-linejoin:miter">—</tspan><tspan x="80.0" y="0.0" font-size="72.0" textLength="103.8" lengthAdjust="spacingAndGlyphs">660</tspan><tspan> </tspan><tspan x="202.6" y="0.0" font-size="72.0" textLength="92.6" lengthAdjust="spacingAndGlyphs">cm</tspan><tspan x="294.2" y="-27.8" font-size="47.0" textLength="26.1" lengthAdjust="spacingAndGlyphs">−</tspan><tspan x="317.9" y="-29.2" font-size="47.0" textLength="23.0" lengthAdjust="spacingAndGlyphs">1</tspan></text>
<text fill="#000" stroke="#000" transform="translate(1843.6,467.4) rotate(-90)"><tspan x="2.5" y="1.1" font-size="66.9" style="stroke-width:4.1px;stroke-linejoin:miter">—</tspan><tspan x="77.6" y="0.0" font-size="72.0" textLength="105.9" lengthAdjust="spacingAndGlyphs">506</tspan><tspan> </tspan><tspan x="202.6" y="0.0" font-size="72.0" textLength="92.6" lengthAdjust="spacingAndGlyphs">cm</tspan><tspan x="294.2" y="-27.8" font-size="47.0" textLength="26.1" lengthAdjust="spacingAndGlyphs">−</tspan><tspan x="317.9" y="-29.2" font-size="47.0" textLength="23.0" lengthAdjust="spacingAndGlyphs">1</tspan></text>
</svg></body></html>
